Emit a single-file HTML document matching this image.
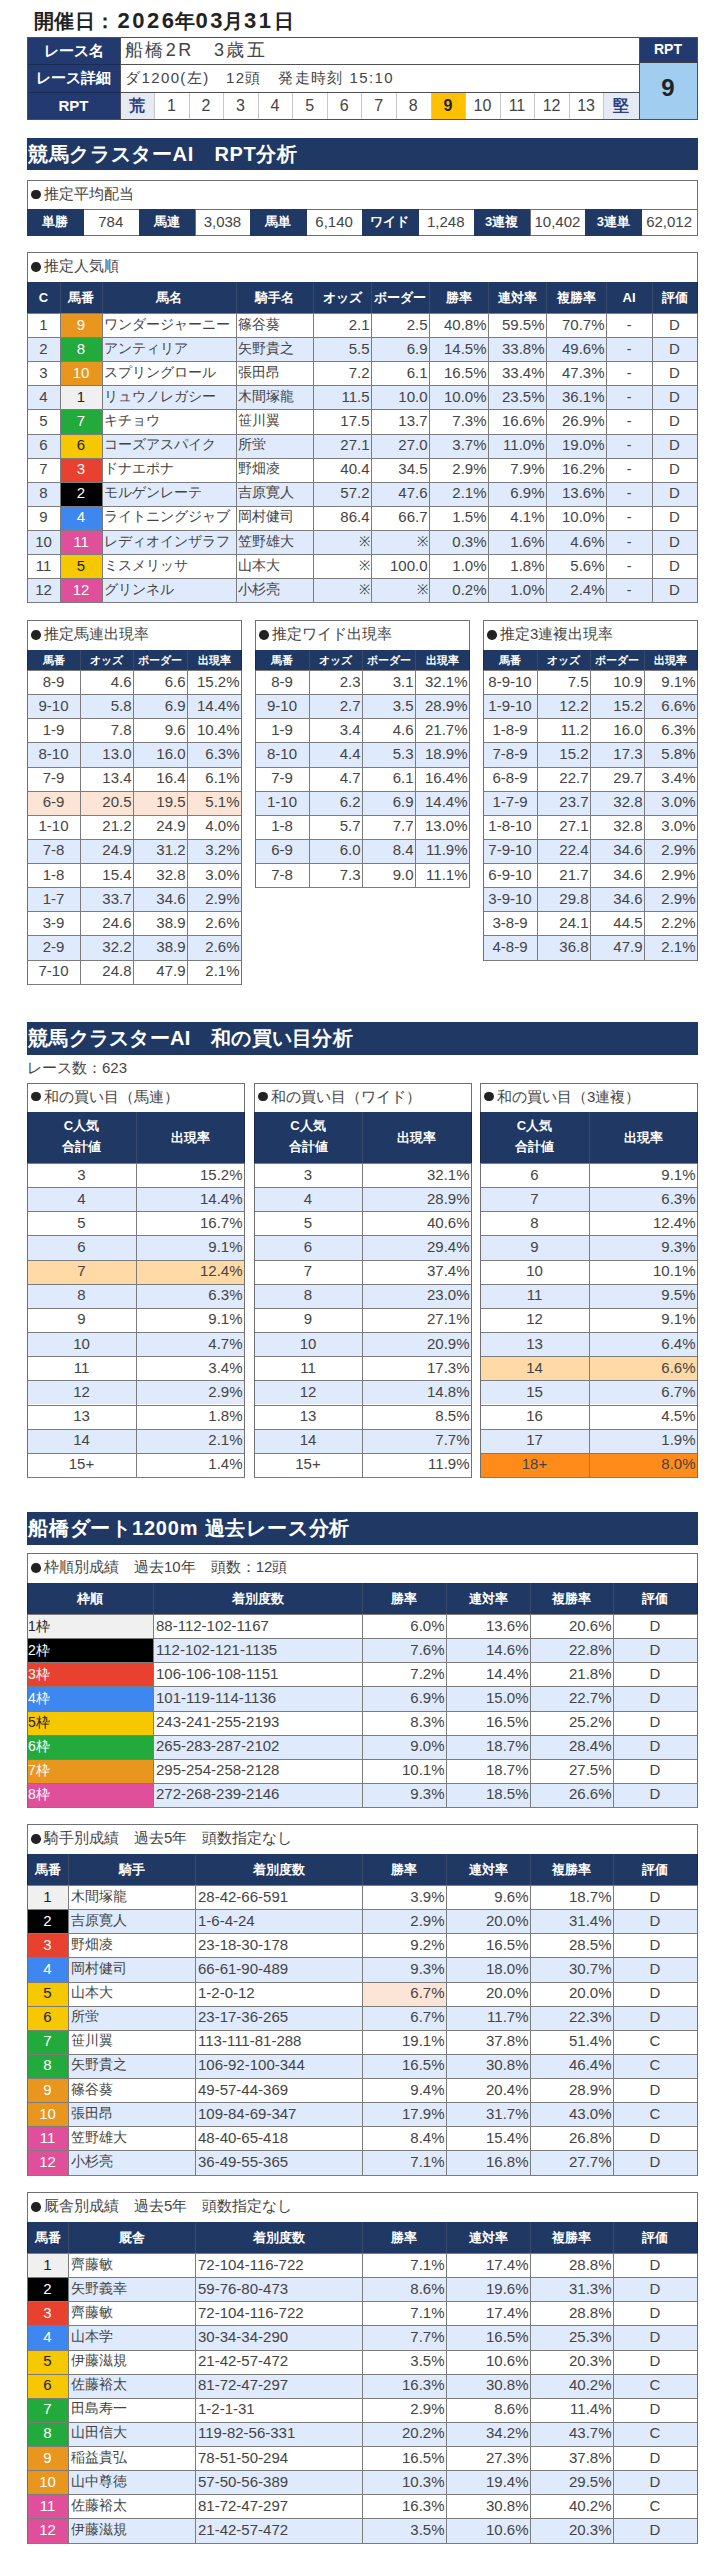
<!DOCTYPE html>
<html><head><meta charset="utf-8"><style>
html,body{margin:0;padding:0;background:#fff;}
body{width:725px;height:2560px;position:relative;overflow:hidden;font-family:"Liberation Sans",sans-serif;color:#444;}
div{position:absolute;}
.t{text-align:center;white-space:nowrap;box-sizing:border-box;}
</style></head><body>
<div class="t" style="left:33.5px;top:6px;width:120px;height:30px;line-height:30px;font-size:20px;text-align:left;color:#222;font-weight:bold;padding-left:0px;letter-spacing:0.6px;">開催日：</div>
<div class="t" style="left:117.5px;top:6px;width:120px;height:30px;line-height:30px;font-size:22px;text-align:left;color:#222;font-weight:bold;padding-left:0px;letter-spacing:2.5px;">2026</div>
<div class="t" style="left:175px;top:6px;width:120px;height:30px;line-height:30px;font-size:20px;text-align:left;color:#222;font-weight:bold;padding-left:0px;letter-spacing:0px;">年</div>
<div class="t" style="left:195.5px;top:6px;width:120px;height:30px;line-height:30px;font-size:22px;text-align:left;color:#222;font-weight:bold;padding-left:0px;letter-spacing:2.5px;">03</div>
<div class="t" style="left:222.5px;top:6px;width:120px;height:30px;line-height:30px;font-size:20px;text-align:left;color:#222;font-weight:bold;padding-left:0px;letter-spacing:0px;">月</div>
<div class="t" style="left:244px;top:6px;width:120px;height:30px;line-height:30px;font-size:22px;text-align:left;color:#222;font-weight:bold;padding-left:0px;letter-spacing:2.5px;">31</div>
<div class="t" style="left:273.5px;top:6px;width:120px;height:30px;line-height:30px;font-size:20px;text-align:left;color:#222;font-weight:bold;padding-left:0px;letter-spacing:0px;">日</div>
<div style="left:27px;top:37px;width:93px;height:83px;background:#233a70"></div>
<div style="left:120px;top:92px;width:34.1px;height:27px;background:#e6eaf2"></div>
<div style="left:603.38px;top:92px;width:35.62px;height:27px;background:#e6eaf2"></div>
<div style="left:430.58px;top:92px;width:34.56px;height:27px;background:#ffc000"></div>
<div style="left:639px;top:37px;width:58px;height:25.6px;background:#233a70"></div>
<div style="left:639px;top:62.6px;width:58px;height:56.4px;background:#a0cdf0"></div>
<div style="left:27px;top:37px;width:671px;height:1px;background:#505050"></div>
<div style="left:27px;top:119px;width:671px;height:1px;background:#505050"></div>
<div style="left:120px;top:64px;width:520px;height:1px;background:#505050"></div>
<div style="left:120px;top:92px;width:520px;height:1px;background:#505050"></div>
<div style="left:27px;top:64px;width:94px;height:1px;background:#1a2a50"></div>
<div style="left:27px;top:92px;width:94px;height:1px;background:#1a2a50"></div>
<div style="left:27px;top:37px;width:1px;height:83px;background:#505050"></div>
<div style="left:120px;top:37px;width:1px;height:83px;background:#505050"></div>
<div style="left:639px;top:37px;width:1px;height:83px;background:#505050"></div>
<div style="left:697px;top:37px;width:1px;height:83px;background:#505050"></div>
<div style="left:154.1px;top:93px;width:1px;height:26px;background:#c8c8c8"></div>
<div style="left:188.66px;top:93px;width:1px;height:26px;background:#c8c8c8"></div>
<div style="left:223.22px;top:93px;width:1px;height:26px;background:#c8c8c8"></div>
<div style="left:257.78px;top:93px;width:1px;height:26px;background:#c8c8c8"></div>
<div style="left:292.34px;top:93px;width:1px;height:26px;background:#c8c8c8"></div>
<div style="left:326.9px;top:93px;width:1px;height:26px;background:#c8c8c8"></div>
<div style="left:361.46px;top:93px;width:1px;height:26px;background:#c8c8c8"></div>
<div style="left:396.02px;top:93px;width:1px;height:26px;background:#c8c8c8"></div>
<div style="left:430.58px;top:93px;width:1px;height:26px;background:#c8c8c8"></div>
<div style="left:465.14px;top:93px;width:1px;height:26px;background:#c8c8c8"></div>
<div style="left:499.7px;top:93px;width:1px;height:26px;background:#c8c8c8"></div>
<div style="left:534.26px;top:93px;width:1px;height:26px;background:#c8c8c8"></div>
<div style="left:568.82px;top:93px;width:1px;height:26px;background:#c8c8c8"></div>
<div style="left:603.38px;top:93px;width:1px;height:26px;background:#c8c8c8"></div>
<div style="left:639px;top:62px;width:59px;height:1px;background:#404040"></div>
<div class="t" style="left:27px;top:36.5px;width:93px;height:27px;line-height:27px;font-size:15px;color:#fff;font-weight:bold;">レース名</div>
<div class="t" style="left:27px;top:63.5px;width:93px;height:28px;line-height:28px;font-size:15px;color:#fff;font-weight:bold;">レース詳細</div>
<div class="t" style="left:27px;top:91.5px;width:93px;height:27px;line-height:27px;font-size:15px;color:#fff;font-weight:bold;">RPT</div>
<div class="t" style="left:120px;top:36.5px;width:500px;height:27px;line-height:27px;font-size:18px;text-align:left;padding-left:5px;letter-spacing:2.4px;">船橋2R　3歳五</div>
<div class="t" style="left:120px;top:63.5px;width:500px;height:28px;line-height:28px;font-size:15px;text-align:left;padding-left:5px;letter-spacing:1.4px;">ダ1200(左)　12頭　発走時刻 15:10</div>
<div class="t" style="left:120px;top:91.5px;width:34.1px;height:27px;line-height:27px;font-size:16px;color:#2b3f86;font-weight:bold;">荒</div>
<div class="t" style="left:154.1px;top:91.5px;width:34.56px;height:27px;line-height:27px;font-size:16px;">1</div>
<div class="t" style="left:188.66px;top:91.5px;width:34.56px;height:27px;line-height:27px;font-size:16px;">2</div>
<div class="t" style="left:223.22px;top:91.5px;width:34.56px;height:27px;line-height:27px;font-size:16px;">3</div>
<div class="t" style="left:257.78px;top:91.5px;width:34.56px;height:27px;line-height:27px;font-size:16px;">4</div>
<div class="t" style="left:292.34px;top:91.5px;width:34.56px;height:27px;line-height:27px;font-size:16px;">5</div>
<div class="t" style="left:326.9px;top:91.5px;width:34.56px;height:27px;line-height:27px;font-size:16px;">6</div>
<div class="t" style="left:361.46px;top:91.5px;width:34.56px;height:27px;line-height:27px;font-size:16px;">7</div>
<div class="t" style="left:396.02px;top:91.5px;width:34.56px;height:27px;line-height:27px;font-size:16px;">8</div>
<div class="t" style="left:430.58px;top:91.5px;width:34.56px;height:27px;line-height:27px;font-size:16px;color:#222;font-weight:bold;">9</div>
<div class="t" style="left:465.14px;top:91.5px;width:34.56px;height:27px;line-height:27px;font-size:16px;">10</div>
<div class="t" style="left:499.7px;top:91.5px;width:34.56px;height:27px;line-height:27px;font-size:16px;">11</div>
<div class="t" style="left:534.26px;top:91.5px;width:34.56px;height:27px;line-height:27px;font-size:16px;">12</div>
<div class="t" style="left:568.82px;top:91.5px;width:34.56px;height:27px;line-height:27px;font-size:16px;">13</div>
<div class="t" style="left:603.38px;top:91.5px;width:35.62px;height:27px;line-height:27px;font-size:16px;color:#2b3f86;font-weight:bold;">堅</div>
<div class="t" style="left:639px;top:36.5px;width:58px;height:25.6px;line-height:25.6px;font-size:14px;color:#fff;font-weight:bold;">RPT</div>
<div class="t" style="left:639px;top:60.1px;width:58px;height:56.4px;line-height:56.4px;font-size:24px;color:#222;font-weight:bold;">9</div>
<div style="left:27px;top:138px;width:671px;height:32px;background:#1f3864"></div>
<div class="t" style="left:27px;top:137.5px;width:660px;height:32px;line-height:32px;font-size:20px;text-align:left;color:#fff;font-weight:bold;padding-left:1px;letter-spacing:0.65px;">競馬クラスターAI　RPT分析</div>
<div style="left:27px;top:180px;width:671px;height:1px;background:#707070"></div>
<div style="left:27px;top:180px;width:1px;height:30px;background:#707070"></div>
<div style="left:697px;top:180px;width:1px;height:30px;background:#707070"></div>
<div style="left:31.2px;top:189.9px;width:9.6px;height:9.6px;border-radius:50%;background:#222"></div>
<div class="t" style="left:44px;top:179.3px;width:653px;height:29px;line-height:29px;font-size:15px;text-align:left;padding-left:0px;">推定平均配当</div>
<div style="left:27px;top:209px;width:671px;height:1px;background:#707070"></div>
<div style="left:27px;top:235px;width:671px;height:1px;background:#707070"></div>
<div style="left:27px;top:209px;width:1px;height:27px;background:#707070"></div>
<div style="left:82.83px;top:209px;width:1px;height:27px;background:#707070"></div>
<div style="left:138.67px;top:209px;width:1px;height:27px;background:#707070"></div>
<div style="left:194.5px;top:209px;width:1px;height:27px;background:#707070"></div>
<div style="left:250.33px;top:209px;width:1px;height:27px;background:#707070"></div>
<div style="left:306.17px;top:209px;width:1px;height:27px;background:#707070"></div>
<div style="left:362px;top:209px;width:1px;height:27px;background:#707070"></div>
<div style="left:417.83px;top:209px;width:1px;height:27px;background:#707070"></div>
<div style="left:473.67px;top:209px;width:1px;height:27px;background:#707070"></div>
<div style="left:529.5px;top:209px;width:1px;height:27px;background:#707070"></div>
<div style="left:585.33px;top:209px;width:1px;height:27px;background:#707070"></div>
<div style="left:641.17px;top:209px;width:1px;height:27px;background:#707070"></div>
<div style="left:697px;top:209px;width:1px;height:27px;background:#707070"></div>
<div style="left:27px;top:209px;width:56.83px;height:27px;background:#1f3864"></div>
<div style="left:138.67px;top:209px;width:56.83px;height:27px;background:#1f3864"></div>
<div style="left:250.33px;top:209px;width:56.83px;height:27px;background:#1f3864"></div>
<div style="left:362px;top:209px;width:56.83px;height:27px;background:#1f3864"></div>
<div style="left:473.67px;top:209px;width:56.83px;height:27px;background:#1f3864"></div>
<div style="left:585.33px;top:209px;width:56.83px;height:27px;background:#1f3864"></div>
<div class="t" style="left:27px;top:208.5px;width:55.83px;height:26px;line-height:26px;font-size:13px;color:#fff;font-weight:bold;">単勝</div>
<div class="t" style="left:82.83px;top:208.5px;width:55.83px;height:26px;line-height:26px;font-size:15px;">784</div>
<div class="t" style="left:138.67px;top:208.5px;width:55.83px;height:26px;line-height:26px;font-size:13px;color:#fff;font-weight:bold;">馬連</div>
<div class="t" style="left:194.5px;top:208.5px;width:55.83px;height:26px;line-height:26px;font-size:15px;">3,038</div>
<div class="t" style="left:250.33px;top:208.5px;width:55.83px;height:26px;line-height:26px;font-size:13px;color:#fff;font-weight:bold;">馬単</div>
<div class="t" style="left:306.17px;top:208.5px;width:55.83px;height:26px;line-height:26px;font-size:15px;">6,140</div>
<div class="t" style="left:362px;top:208.5px;width:55.83px;height:26px;line-height:26px;font-size:13px;color:#fff;font-weight:bold;">ワイド</div>
<div class="t" style="left:417.83px;top:208.5px;width:55.83px;height:26px;line-height:26px;font-size:15px;">1,248</div>
<div class="t" style="left:473.67px;top:208.5px;width:55.83px;height:26px;line-height:26px;font-size:13px;color:#fff;font-weight:bold;">3連複</div>
<div class="t" style="left:529.5px;top:208.5px;width:55.83px;height:26px;line-height:26px;font-size:15px;">10,402</div>
<div class="t" style="left:585.33px;top:208.5px;width:55.83px;height:26px;line-height:26px;font-size:13px;color:#fff;font-weight:bold;">3連単</div>
<div class="t" style="left:641.17px;top:208.5px;width:55.83px;height:26px;line-height:26px;font-size:15px;">62,012</div>
<div style="left:27px;top:252px;width:671px;height:1px;background:#707070"></div>
<div style="left:27px;top:252px;width:1px;height:31px;background:#707070"></div>
<div style="left:697px;top:252px;width:1px;height:31px;background:#707070"></div>
<div style="left:31.2px;top:262.4px;width:9.6px;height:9.6px;border-radius:50%;background:#222"></div>
<div class="t" style="left:44px;top:251.3px;width:653px;height:30px;line-height:30px;font-size:15px;text-align:left;padding-left:0px;">推定人気順</div>
<div style="left:27px;top:282px;width:671px;height:31px;background:#1f3864"></div>
<div style="left:60px;top:282px;width:1px;height:31px;background:#3b4a68"></div>
<div style="left:102px;top:282px;width:1px;height:31px;background:#3b4a68"></div>
<div style="left:236px;top:282px;width:1px;height:31px;background:#3b4a68"></div>
<div style="left:313px;top:282px;width:1px;height:31px;background:#3b4a68"></div>
<div style="left:371px;top:282px;width:1px;height:31px;background:#3b4a68"></div>
<div style="left:429px;top:282px;width:1px;height:31px;background:#3b4a68"></div>
<div style="left:488px;top:282px;width:1px;height:31px;background:#3b4a68"></div>
<div style="left:546px;top:282px;width:1px;height:31px;background:#3b4a68"></div>
<div style="left:606px;top:282px;width:1px;height:31px;background:#3b4a68"></div>
<div style="left:652px;top:282px;width:1px;height:31px;background:#3b4a68"></div>
<div style="left:27px;top:282px;width:1px;height:31px;background:#1a2848"></div>
<div style="left:697px;top:282px;width:1px;height:31px;background:#1a2848"></div>
<div class="t" style="left:27px;top:281.5px;width:33px;height:31px;line-height:31px;font-size:13px;color:#fff;font-weight:bold;">C</div>
<div class="t" style="left:60px;top:281.5px;width:42px;height:31px;line-height:31px;font-size:13px;color:#fff;font-weight:bold;">馬番</div>
<div class="t" style="left:102px;top:281.5px;width:134px;height:31px;line-height:31px;font-size:13px;color:#fff;font-weight:bold;">馬名</div>
<div class="t" style="left:236px;top:281.5px;width:77px;height:31px;line-height:31px;font-size:13px;color:#fff;font-weight:bold;">騎手名</div>
<div class="t" style="left:313px;top:281.5px;width:58px;height:31px;line-height:31px;font-size:13px;color:#fff;font-weight:bold;">オッズ</div>
<div class="t" style="left:371px;top:281.5px;width:58px;height:31px;line-height:31px;font-size:13px;color:#fff;font-weight:bold;">ボーダー</div>
<div class="t" style="left:429px;top:281.5px;width:59px;height:31px;line-height:31px;font-size:13px;color:#fff;font-weight:bold;">勝率</div>
<div class="t" style="left:488px;top:281.5px;width:58px;height:31px;line-height:31px;font-size:13px;color:#fff;font-weight:bold;">連対率</div>
<div class="t" style="left:546px;top:281.5px;width:60px;height:31px;line-height:31px;font-size:13px;color:#fff;font-weight:bold;">複勝率</div>
<div class="t" style="left:606px;top:281.5px;width:46px;height:31px;line-height:31px;font-size:13px;color:#fff;font-weight:bold;">AI</div>
<div class="t" style="left:652px;top:281.5px;width:45px;height:31px;line-height:31px;font-size:13px;color:#fff;font-weight:bold;">評価</div>
<div style="left:60px;top:313px;width:42px;height:24.12px;background:#e8961e"></div>
<div style="left:27px;top:337.12px;width:670px;height:24.12px;background:#dfeafc"></div>
<div style="left:60px;top:337.12px;width:42px;height:24.12px;background:#22aa3c"></div>
<div style="left:60px;top:361.24px;width:42px;height:24.12px;background:#e8961e"></div>
<div style="left:27px;top:385.36px;width:670px;height:24.12px;background:#dfeafc"></div>
<div style="left:60px;top:385.36px;width:42px;height:24.12px;background:#f0f0f0"></div>
<div style="left:60px;top:409.48px;width:42px;height:24.12px;background:#22aa3c"></div>
<div style="left:27px;top:433.6px;width:670px;height:24.12px;background:#dfeafc"></div>
<div style="left:60px;top:433.6px;width:42px;height:24.12px;background:#f5c800"></div>
<div style="left:60px;top:457.72px;width:42px;height:24.12px;background:#e8412f"></div>
<div style="left:27px;top:481.84px;width:670px;height:24.12px;background:#dfeafc"></div>
<div style="left:60px;top:481.84px;width:42px;height:24.12px;background:#000000"></div>
<div style="left:60px;top:505.96px;width:42px;height:24.12px;background:#3f87f0"></div>
<div style="left:27px;top:530.08px;width:670px;height:24.12px;background:#dfeafc"></div>
<div style="left:60px;top:530.08px;width:42px;height:24.12px;background:#e0509a"></div>
<div style="left:60px;top:554.2px;width:42px;height:24.12px;background:#f5c800"></div>
<div style="left:27px;top:578.32px;width:670px;height:24.12px;background:#dfeafc"></div>
<div style="left:60px;top:578.32px;width:42px;height:24.12px;background:#e0509a"></div>
<div style="left:27px;top:313px;width:671px;height:1px;background:#7c7c7c"></div>
<div style="left:27px;top:337.12px;width:671px;height:1px;background:#7c7c7c"></div>
<div style="left:27px;top:361.24px;width:671px;height:1px;background:#7c7c7c"></div>
<div style="left:27px;top:385.36px;width:671px;height:1px;background:#7c7c7c"></div>
<div style="left:27px;top:409.48px;width:671px;height:1px;background:#7c7c7c"></div>
<div style="left:27px;top:433.6px;width:671px;height:1px;background:#7c7c7c"></div>
<div style="left:27px;top:457.72px;width:671px;height:1px;background:#7c7c7c"></div>
<div style="left:27px;top:481.84px;width:671px;height:1px;background:#7c7c7c"></div>
<div style="left:27px;top:505.96px;width:671px;height:1px;background:#7c7c7c"></div>
<div style="left:27px;top:530.08px;width:671px;height:1px;background:#7c7c7c"></div>
<div style="left:27px;top:554.2px;width:671px;height:1px;background:#7c7c7c"></div>
<div style="left:27px;top:578.32px;width:671px;height:1px;background:#7c7c7c"></div>
<div style="left:27px;top:602.44px;width:671px;height:1px;background:#7c7c7c"></div>
<div style="left:27px;top:313px;width:1px;height:290.44px;background:#7c7c7c"></div>
<div style="left:60px;top:313px;width:1px;height:290.44px;background:#7c7c7c"></div>
<div style="left:102px;top:313px;width:1px;height:290.44px;background:#7c7c7c"></div>
<div style="left:236px;top:313px;width:1px;height:290.44px;background:#7c7c7c"></div>
<div style="left:313px;top:313px;width:1px;height:290.44px;background:#7c7c7c"></div>
<div style="left:371px;top:313px;width:1px;height:290.44px;background:#7c7c7c"></div>
<div style="left:429px;top:313px;width:1px;height:290.44px;background:#7c7c7c"></div>
<div style="left:488px;top:313px;width:1px;height:290.44px;background:#7c7c7c"></div>
<div style="left:546px;top:313px;width:1px;height:290.44px;background:#7c7c7c"></div>
<div style="left:606px;top:313px;width:1px;height:290.44px;background:#7c7c7c"></div>
<div style="left:652px;top:313px;width:1px;height:290.44px;background:#7c7c7c"></div>
<div style="left:697px;top:313px;width:1px;height:290.44px;background:#7c7c7c"></div>
<div style="left:27px;top:313px;width:1px;height:290.44px;background:#707070"></div>
<div style="left:697px;top:313px;width:1px;height:290.44px;background:#707070"></div>
<div class="t" style="left:27px;top:312.5px;width:33px;height:24.12px;line-height:24.12px;font-size:15px;">1</div>
<div class="t" style="left:60px;top:312.5px;width:42px;height:24.12px;line-height:24.12px;font-size:15px;color:#fff;">9</div>
<div class="t" style="left:102px;top:312.5px;width:134px;height:24.12px;line-height:24.12px;font-size:13.5px;text-align:left;padding-left:2px;">ワンダージャーニー</div>
<div class="t" style="left:236px;top:312.5px;width:77px;height:24.12px;line-height:24.12px;font-size:13.5px;text-align:left;padding-left:2px;">篠谷葵</div>
<div class="t" style="left:313px;top:312.5px;width:58px;height:24.12px;line-height:24.12px;font-size:15px;text-align:right;padding-right:1.5px;">2.1</div>
<div class="t" style="left:371px;top:312.5px;width:58px;height:24.12px;line-height:24.12px;font-size:15px;text-align:right;padding-right:1.5px;">2.5</div>
<div class="t" style="left:429px;top:312.5px;width:59px;height:24.12px;line-height:24.12px;font-size:15px;text-align:right;padding-right:1.5px;">40.8%</div>
<div class="t" style="left:488px;top:312.5px;width:58px;height:24.12px;line-height:24.12px;font-size:15px;text-align:right;padding-right:1.5px;">59.5%</div>
<div class="t" style="left:546px;top:312.5px;width:60px;height:24.12px;line-height:24.12px;font-size:15px;text-align:right;padding-right:1.5px;">70.7%</div>
<div class="t" style="left:606px;top:312.5px;width:46px;height:24.12px;line-height:24.12px;font-size:14px;">-</div>
<div class="t" style="left:652px;top:312.5px;width:45px;height:24.12px;line-height:24.12px;font-size:15px;">D</div>
<div class="t" style="left:27px;top:336.62px;width:33px;height:24.12px;line-height:24.12px;font-size:15px;">2</div>
<div class="t" style="left:60px;top:336.62px;width:42px;height:24.12px;line-height:24.12px;font-size:15px;color:#fff;">8</div>
<div class="t" style="left:102px;top:336.62px;width:134px;height:24.12px;line-height:24.12px;font-size:13.5px;text-align:left;padding-left:2px;">アンティリア</div>
<div class="t" style="left:236px;top:336.62px;width:77px;height:24.12px;line-height:24.12px;font-size:13.5px;text-align:left;padding-left:2px;">矢野貴之</div>
<div class="t" style="left:313px;top:336.62px;width:58px;height:24.12px;line-height:24.12px;font-size:15px;text-align:right;padding-right:1.5px;">5.5</div>
<div class="t" style="left:371px;top:336.62px;width:58px;height:24.12px;line-height:24.12px;font-size:15px;text-align:right;padding-right:1.5px;">6.9</div>
<div class="t" style="left:429px;top:336.62px;width:59px;height:24.12px;line-height:24.12px;font-size:15px;text-align:right;padding-right:1.5px;">14.5%</div>
<div class="t" style="left:488px;top:336.62px;width:58px;height:24.12px;line-height:24.12px;font-size:15px;text-align:right;padding-right:1.5px;">33.8%</div>
<div class="t" style="left:546px;top:336.62px;width:60px;height:24.12px;line-height:24.12px;font-size:15px;text-align:right;padding-right:1.5px;">49.6%</div>
<div class="t" style="left:606px;top:336.62px;width:46px;height:24.12px;line-height:24.12px;font-size:14px;">-</div>
<div class="t" style="left:652px;top:336.62px;width:45px;height:24.12px;line-height:24.12px;font-size:15px;">D</div>
<div class="t" style="left:27px;top:360.74px;width:33px;height:24.12px;line-height:24.12px;font-size:15px;">3</div>
<div class="t" style="left:60px;top:360.74px;width:42px;height:24.12px;line-height:24.12px;font-size:15px;color:#fff;">10</div>
<div class="t" style="left:102px;top:360.74px;width:134px;height:24.12px;line-height:24.12px;font-size:13.5px;text-align:left;padding-left:2px;">スプリングロール</div>
<div class="t" style="left:236px;top:360.74px;width:77px;height:24.12px;line-height:24.12px;font-size:13.5px;text-align:left;padding-left:2px;">張田昂</div>
<div class="t" style="left:313px;top:360.74px;width:58px;height:24.12px;line-height:24.12px;font-size:15px;text-align:right;padding-right:1.5px;">7.2</div>
<div class="t" style="left:371px;top:360.74px;width:58px;height:24.12px;line-height:24.12px;font-size:15px;text-align:right;padding-right:1.5px;">6.1</div>
<div class="t" style="left:429px;top:360.74px;width:59px;height:24.12px;line-height:24.12px;font-size:15px;text-align:right;padding-right:1.5px;">16.5%</div>
<div class="t" style="left:488px;top:360.74px;width:58px;height:24.12px;line-height:24.12px;font-size:15px;text-align:right;padding-right:1.5px;">33.4%</div>
<div class="t" style="left:546px;top:360.74px;width:60px;height:24.12px;line-height:24.12px;font-size:15px;text-align:right;padding-right:1.5px;">47.3%</div>
<div class="t" style="left:606px;top:360.74px;width:46px;height:24.12px;line-height:24.12px;font-size:14px;">-</div>
<div class="t" style="left:652px;top:360.74px;width:45px;height:24.12px;line-height:24.12px;font-size:15px;">D</div>
<div class="t" style="left:27px;top:384.86px;width:33px;height:24.12px;line-height:24.12px;font-size:15px;">4</div>
<div class="t" style="left:60px;top:384.86px;width:42px;height:24.12px;line-height:24.12px;font-size:15px;color:#222;">1</div>
<div class="t" style="left:102px;top:384.86px;width:134px;height:24.12px;line-height:24.12px;font-size:13.5px;text-align:left;padding-left:2px;">リュウノレガシー</div>
<div class="t" style="left:236px;top:384.86px;width:77px;height:24.12px;line-height:24.12px;font-size:13.5px;text-align:left;padding-left:2px;">木間塚龍</div>
<div class="t" style="left:313px;top:384.86px;width:58px;height:24.12px;line-height:24.12px;font-size:15px;text-align:right;padding-right:1.5px;">11.5</div>
<div class="t" style="left:371px;top:384.86px;width:58px;height:24.12px;line-height:24.12px;font-size:15px;text-align:right;padding-right:1.5px;">10.0</div>
<div class="t" style="left:429px;top:384.86px;width:59px;height:24.12px;line-height:24.12px;font-size:15px;text-align:right;padding-right:1.5px;">10.0%</div>
<div class="t" style="left:488px;top:384.86px;width:58px;height:24.12px;line-height:24.12px;font-size:15px;text-align:right;padding-right:1.5px;">23.5%</div>
<div class="t" style="left:546px;top:384.86px;width:60px;height:24.12px;line-height:24.12px;font-size:15px;text-align:right;padding-right:1.5px;">36.1%</div>
<div class="t" style="left:606px;top:384.86px;width:46px;height:24.12px;line-height:24.12px;font-size:14px;">-</div>
<div class="t" style="left:652px;top:384.86px;width:45px;height:24.12px;line-height:24.12px;font-size:15px;">D</div>
<div class="t" style="left:27px;top:408.98px;width:33px;height:24.12px;line-height:24.12px;font-size:15px;">5</div>
<div class="t" style="left:60px;top:408.98px;width:42px;height:24.12px;line-height:24.12px;font-size:15px;color:#fff;">7</div>
<div class="t" style="left:102px;top:408.98px;width:134px;height:24.12px;line-height:24.12px;font-size:13.5px;text-align:left;padding-left:2px;">キチョウ</div>
<div class="t" style="left:236px;top:408.98px;width:77px;height:24.12px;line-height:24.12px;font-size:13.5px;text-align:left;padding-left:2px;">笹川翼</div>
<div class="t" style="left:313px;top:408.98px;width:58px;height:24.12px;line-height:24.12px;font-size:15px;text-align:right;padding-right:1.5px;">17.5</div>
<div class="t" style="left:371px;top:408.98px;width:58px;height:24.12px;line-height:24.12px;font-size:15px;text-align:right;padding-right:1.5px;">13.7</div>
<div class="t" style="left:429px;top:408.98px;width:59px;height:24.12px;line-height:24.12px;font-size:15px;text-align:right;padding-right:1.5px;">7.3%</div>
<div class="t" style="left:488px;top:408.98px;width:58px;height:24.12px;line-height:24.12px;font-size:15px;text-align:right;padding-right:1.5px;">16.6%</div>
<div class="t" style="left:546px;top:408.98px;width:60px;height:24.12px;line-height:24.12px;font-size:15px;text-align:right;padding-right:1.5px;">26.9%</div>
<div class="t" style="left:606px;top:408.98px;width:46px;height:24.12px;line-height:24.12px;font-size:14px;">-</div>
<div class="t" style="left:652px;top:408.98px;width:45px;height:24.12px;line-height:24.12px;font-size:15px;">D</div>
<div class="t" style="left:27px;top:433.1px;width:33px;height:24.12px;line-height:24.12px;font-size:15px;">6</div>
<div class="t" style="left:60px;top:433.1px;width:42px;height:24.12px;line-height:24.12px;font-size:15px;color:#222;">6</div>
<div class="t" style="left:102px;top:433.1px;width:134px;height:24.12px;line-height:24.12px;font-size:13.5px;text-align:left;padding-left:2px;">コーズアスパイク</div>
<div class="t" style="left:236px;top:433.1px;width:77px;height:24.12px;line-height:24.12px;font-size:13.5px;text-align:left;padding-left:2px;">所蛍</div>
<div class="t" style="left:313px;top:433.1px;width:58px;height:24.12px;line-height:24.12px;font-size:15px;text-align:right;padding-right:1.5px;">27.1</div>
<div class="t" style="left:371px;top:433.1px;width:58px;height:24.12px;line-height:24.12px;font-size:15px;text-align:right;padding-right:1.5px;">27.0</div>
<div class="t" style="left:429px;top:433.1px;width:59px;height:24.12px;line-height:24.12px;font-size:15px;text-align:right;padding-right:1.5px;">3.7%</div>
<div class="t" style="left:488px;top:433.1px;width:58px;height:24.12px;line-height:24.12px;font-size:15px;text-align:right;padding-right:1.5px;">11.0%</div>
<div class="t" style="left:546px;top:433.1px;width:60px;height:24.12px;line-height:24.12px;font-size:15px;text-align:right;padding-right:1.5px;">19.0%</div>
<div class="t" style="left:606px;top:433.1px;width:46px;height:24.12px;line-height:24.12px;font-size:14px;">-</div>
<div class="t" style="left:652px;top:433.1px;width:45px;height:24.12px;line-height:24.12px;font-size:15px;">D</div>
<div class="t" style="left:27px;top:457.22px;width:33px;height:24.12px;line-height:24.12px;font-size:15px;">7</div>
<div class="t" style="left:60px;top:457.22px;width:42px;height:24.12px;line-height:24.12px;font-size:15px;color:#fff;">3</div>
<div class="t" style="left:102px;top:457.22px;width:134px;height:24.12px;line-height:24.12px;font-size:13.5px;text-align:left;padding-left:2px;">ドナエポナ</div>
<div class="t" style="left:236px;top:457.22px;width:77px;height:24.12px;line-height:24.12px;font-size:13.5px;text-align:left;padding-left:2px;">野畑凌</div>
<div class="t" style="left:313px;top:457.22px;width:58px;height:24.12px;line-height:24.12px;font-size:15px;text-align:right;padding-right:1.5px;">40.4</div>
<div class="t" style="left:371px;top:457.22px;width:58px;height:24.12px;line-height:24.12px;font-size:15px;text-align:right;padding-right:1.5px;">34.5</div>
<div class="t" style="left:429px;top:457.22px;width:59px;height:24.12px;line-height:24.12px;font-size:15px;text-align:right;padding-right:1.5px;">2.9%</div>
<div class="t" style="left:488px;top:457.22px;width:58px;height:24.12px;line-height:24.12px;font-size:15px;text-align:right;padding-right:1.5px;">7.9%</div>
<div class="t" style="left:546px;top:457.22px;width:60px;height:24.12px;line-height:24.12px;font-size:15px;text-align:right;padding-right:1.5px;">16.2%</div>
<div class="t" style="left:606px;top:457.22px;width:46px;height:24.12px;line-height:24.12px;font-size:14px;">-</div>
<div class="t" style="left:652px;top:457.22px;width:45px;height:24.12px;line-height:24.12px;font-size:15px;">D</div>
<div class="t" style="left:27px;top:481.34px;width:33px;height:24.12px;line-height:24.12px;font-size:15px;">8</div>
<div class="t" style="left:60px;top:481.34px;width:42px;height:24.12px;line-height:24.12px;font-size:15px;color:#fff;">2</div>
<div class="t" style="left:102px;top:481.34px;width:134px;height:24.12px;line-height:24.12px;font-size:13.5px;text-align:left;padding-left:2px;">モルゲンレーテ</div>
<div class="t" style="left:236px;top:481.34px;width:77px;height:24.12px;line-height:24.12px;font-size:13.5px;text-align:left;padding-left:2px;">吉原寛人</div>
<div class="t" style="left:313px;top:481.34px;width:58px;height:24.12px;line-height:24.12px;font-size:15px;text-align:right;padding-right:1.5px;">57.2</div>
<div class="t" style="left:371px;top:481.34px;width:58px;height:24.12px;line-height:24.12px;font-size:15px;text-align:right;padding-right:1.5px;">47.6</div>
<div class="t" style="left:429px;top:481.34px;width:59px;height:24.12px;line-height:24.12px;font-size:15px;text-align:right;padding-right:1.5px;">2.1%</div>
<div class="t" style="left:488px;top:481.34px;width:58px;height:24.12px;line-height:24.12px;font-size:15px;text-align:right;padding-right:1.5px;">6.9%</div>
<div class="t" style="left:546px;top:481.34px;width:60px;height:24.12px;line-height:24.12px;font-size:15px;text-align:right;padding-right:1.5px;">13.6%</div>
<div class="t" style="left:606px;top:481.34px;width:46px;height:24.12px;line-height:24.12px;font-size:14px;">-</div>
<div class="t" style="left:652px;top:481.34px;width:45px;height:24.12px;line-height:24.12px;font-size:15px;">D</div>
<div class="t" style="left:27px;top:505.46px;width:33px;height:24.12px;line-height:24.12px;font-size:15px;">9</div>
<div class="t" style="left:60px;top:505.46px;width:42px;height:24.12px;line-height:24.12px;font-size:15px;color:#fff;">4</div>
<div class="t" style="left:102px;top:505.46px;width:134px;height:24.12px;line-height:24.12px;font-size:13.5px;text-align:left;padding-left:2px;">ライトニングジャブ</div>
<div class="t" style="left:236px;top:505.46px;width:77px;height:24.12px;line-height:24.12px;font-size:13.5px;text-align:left;padding-left:2px;">岡村健司</div>
<div class="t" style="left:313px;top:505.46px;width:58px;height:24.12px;line-height:24.12px;font-size:15px;text-align:right;padding-right:1.5px;">86.4</div>
<div class="t" style="left:371px;top:505.46px;width:58px;height:24.12px;line-height:24.12px;font-size:15px;text-align:right;padding-right:1.5px;">66.7</div>
<div class="t" style="left:429px;top:505.46px;width:59px;height:24.12px;line-height:24.12px;font-size:15px;text-align:right;padding-right:1.5px;">1.5%</div>
<div class="t" style="left:488px;top:505.46px;width:58px;height:24.12px;line-height:24.12px;font-size:15px;text-align:right;padding-right:1.5px;">4.1%</div>
<div class="t" style="left:546px;top:505.46px;width:60px;height:24.12px;line-height:24.12px;font-size:15px;text-align:right;padding-right:1.5px;">10.0%</div>
<div class="t" style="left:606px;top:505.46px;width:46px;height:24.12px;line-height:24.12px;font-size:14px;">-</div>
<div class="t" style="left:652px;top:505.46px;width:45px;height:24.12px;line-height:24.12px;font-size:15px;">D</div>
<div class="t" style="left:27px;top:529.58px;width:33px;height:24.12px;line-height:24.12px;font-size:15px;">10</div>
<div class="t" style="left:60px;top:529.58px;width:42px;height:24.12px;line-height:24.12px;font-size:15px;color:#fff;">11</div>
<div class="t" style="left:102px;top:529.58px;width:134px;height:24.12px;line-height:24.12px;font-size:13.5px;text-align:left;padding-left:2px;">レディオインザラフ</div>
<div class="t" style="left:236px;top:529.58px;width:77px;height:24.12px;line-height:24.12px;font-size:13.5px;text-align:left;padding-left:2px;">笠野雄大</div>
<div class="t" style="left:313px;top:529.58px;width:58px;height:24.12px;line-height:24.12px;font-size:13.5px;text-align:right;padding-right:1.5px;">※</div>
<div class="t" style="left:371px;top:529.58px;width:58px;height:24.12px;line-height:24.12px;font-size:13.5px;text-align:right;padding-right:1.5px;">※</div>
<div class="t" style="left:429px;top:529.58px;width:59px;height:24.12px;line-height:24.12px;font-size:15px;text-align:right;padding-right:1.5px;">0.3%</div>
<div class="t" style="left:488px;top:529.58px;width:58px;height:24.12px;line-height:24.12px;font-size:15px;text-align:right;padding-right:1.5px;">1.6%</div>
<div class="t" style="left:546px;top:529.58px;width:60px;height:24.12px;line-height:24.12px;font-size:15px;text-align:right;padding-right:1.5px;">4.6%</div>
<div class="t" style="left:606px;top:529.58px;width:46px;height:24.12px;line-height:24.12px;font-size:14px;">-</div>
<div class="t" style="left:652px;top:529.58px;width:45px;height:24.12px;line-height:24.12px;font-size:15px;">D</div>
<div class="t" style="left:27px;top:553.7px;width:33px;height:24.12px;line-height:24.12px;font-size:15px;">11</div>
<div class="t" style="left:60px;top:553.7px;width:42px;height:24.12px;line-height:24.12px;font-size:15px;color:#222;">5</div>
<div class="t" style="left:102px;top:553.7px;width:134px;height:24.12px;line-height:24.12px;font-size:13.5px;text-align:left;padding-left:2px;">ミスメリッサ</div>
<div class="t" style="left:236px;top:553.7px;width:77px;height:24.12px;line-height:24.12px;font-size:13.5px;text-align:left;padding-left:2px;">山本大</div>
<div class="t" style="left:313px;top:553.7px;width:58px;height:24.12px;line-height:24.12px;font-size:13.5px;text-align:right;padding-right:1.5px;">※</div>
<div class="t" style="left:371px;top:553.7px;width:58px;height:24.12px;line-height:24.12px;font-size:15px;text-align:right;padding-right:1.5px;">100.0</div>
<div class="t" style="left:429px;top:553.7px;width:59px;height:24.12px;line-height:24.12px;font-size:15px;text-align:right;padding-right:1.5px;">1.0%</div>
<div class="t" style="left:488px;top:553.7px;width:58px;height:24.12px;line-height:24.12px;font-size:15px;text-align:right;padding-right:1.5px;">1.8%</div>
<div class="t" style="left:546px;top:553.7px;width:60px;height:24.12px;line-height:24.12px;font-size:15px;text-align:right;padding-right:1.5px;">5.6%</div>
<div class="t" style="left:606px;top:553.7px;width:46px;height:24.12px;line-height:24.12px;font-size:14px;">-</div>
<div class="t" style="left:652px;top:553.7px;width:45px;height:24.12px;line-height:24.12px;font-size:15px;">D</div>
<div class="t" style="left:27px;top:577.82px;width:33px;height:24.12px;line-height:24.12px;font-size:15px;">12</div>
<div class="t" style="left:60px;top:577.82px;width:42px;height:24.12px;line-height:24.12px;font-size:15px;color:#fff;">12</div>
<div class="t" style="left:102px;top:577.82px;width:134px;height:24.12px;line-height:24.12px;font-size:13.5px;text-align:left;padding-left:2px;">グリンネル</div>
<div class="t" style="left:236px;top:577.82px;width:77px;height:24.12px;line-height:24.12px;font-size:13.5px;text-align:left;padding-left:2px;">小杉亮</div>
<div class="t" style="left:313px;top:577.82px;width:58px;height:24.12px;line-height:24.12px;font-size:13.5px;text-align:right;padding-right:1.5px;">※</div>
<div class="t" style="left:371px;top:577.82px;width:58px;height:24.12px;line-height:24.12px;font-size:13.5px;text-align:right;padding-right:1.5px;">※</div>
<div class="t" style="left:429px;top:577.82px;width:59px;height:24.12px;line-height:24.12px;font-size:15px;text-align:right;padding-right:1.5px;">0.2%</div>
<div class="t" style="left:488px;top:577.82px;width:58px;height:24.12px;line-height:24.12px;font-size:15px;text-align:right;padding-right:1.5px;">1.0%</div>
<div class="t" style="left:546px;top:577.82px;width:60px;height:24.12px;line-height:24.12px;font-size:15px;text-align:right;padding-right:1.5px;">2.4%</div>
<div class="t" style="left:606px;top:577.82px;width:46px;height:24.12px;line-height:24.12px;font-size:14px;">-</div>
<div class="t" style="left:652px;top:577.82px;width:45px;height:24.12px;line-height:24.12px;font-size:15px;">D</div>
<div style="left:27px;top:620px;width:215px;height:1px;background:#707070"></div>
<div style="left:27px;top:620px;width:1px;height:31px;background:#707070"></div>
<div style="left:241px;top:620px;width:1px;height:31px;background:#707070"></div>
<div style="left:31.2px;top:630.4px;width:9.6px;height:9.6px;border-radius:50%;background:#222"></div>
<div class="t" style="left:44px;top:619.3px;width:197px;height:30px;line-height:30px;font-size:15px;text-align:left;padding-left:0px;">推定馬連出現率</div>
<div style="left:27px;top:650px;width:215px;height:20px;background:#1f3864"></div>
<div style="left:80px;top:650px;width:1px;height:20px;background:#3b4a68"></div>
<div style="left:133px;top:650px;width:1px;height:20px;background:#3b4a68"></div>
<div style="left:187px;top:650px;width:1px;height:20px;background:#3b4a68"></div>
<div style="left:27px;top:650px;width:1px;height:20px;background:#1a2848"></div>
<div style="left:241px;top:650px;width:1px;height:20px;background:#1a2848"></div>
<div class="t" style="left:27px;top:649.5px;width:53px;height:20px;line-height:20px;font-size:11px;color:#fff;font-weight:bold;">馬番</div>
<div class="t" style="left:80px;top:649.5px;width:53px;height:20px;line-height:20px;font-size:11px;color:#fff;font-weight:bold;">オッズ</div>
<div class="t" style="left:133px;top:649.5px;width:54px;height:20px;line-height:20px;font-size:11px;color:#fff;font-weight:bold;">ボーダー</div>
<div class="t" style="left:187px;top:649.5px;width:54px;height:20px;line-height:20px;font-size:11px;color:#fff;font-weight:bold;">出現率</div>
<div style="left:27px;top:694.13px;width:214px;height:24.13px;background:#dfeafc"></div>
<div style="left:27px;top:742.39px;width:214px;height:24.13px;background:#dfeafc"></div>
<div style="left:27px;top:790.65px;width:214px;height:24.13px;background:#fce4d6"></div>
<div style="left:27px;top:838.91px;width:214px;height:24.13px;background:#dfeafc"></div>
<div style="left:27px;top:887.17px;width:214px;height:24.13px;background:#dfeafc"></div>
<div style="left:27px;top:935.43px;width:214px;height:24.13px;background:#dfeafc"></div>
<div style="left:27px;top:670px;width:215px;height:1px;background:#7c7c7c"></div>
<div style="left:27px;top:694.13px;width:215px;height:1px;background:#7c7c7c"></div>
<div style="left:27px;top:718.26px;width:215px;height:1px;background:#7c7c7c"></div>
<div style="left:27px;top:742.39px;width:215px;height:1px;background:#7c7c7c"></div>
<div style="left:27px;top:766.52px;width:215px;height:1px;background:#7c7c7c"></div>
<div style="left:27px;top:790.65px;width:215px;height:1px;background:#7c7c7c"></div>
<div style="left:27px;top:814.78px;width:215px;height:1px;background:#7c7c7c"></div>
<div style="left:27px;top:838.91px;width:215px;height:1px;background:#7c7c7c"></div>
<div style="left:27px;top:863.04px;width:215px;height:1px;background:#7c7c7c"></div>
<div style="left:27px;top:887.17px;width:215px;height:1px;background:#7c7c7c"></div>
<div style="left:27px;top:911.3px;width:215px;height:1px;background:#7c7c7c"></div>
<div style="left:27px;top:935.43px;width:215px;height:1px;background:#7c7c7c"></div>
<div style="left:27px;top:959.56px;width:215px;height:1px;background:#7c7c7c"></div>
<div style="left:27px;top:983.69px;width:215px;height:1px;background:#7c7c7c"></div>
<div style="left:27px;top:670px;width:1px;height:314.69px;background:#7c7c7c"></div>
<div style="left:80px;top:670px;width:1px;height:314.69px;background:#7c7c7c"></div>
<div style="left:133px;top:670px;width:1px;height:314.69px;background:#7c7c7c"></div>
<div style="left:187px;top:670px;width:1px;height:314.69px;background:#7c7c7c"></div>
<div style="left:241px;top:670px;width:1px;height:314.69px;background:#7c7c7c"></div>
<div style="left:27px;top:670px;width:1px;height:314.69px;background:#707070"></div>
<div style="left:241px;top:670px;width:1px;height:314.69px;background:#707070"></div>
<div class="t" style="left:27px;top:669.5px;width:53px;height:24.13px;line-height:24.13px;font-size:15px;">8-9</div>
<div class="t" style="left:80px;top:669.5px;width:53px;height:24.13px;line-height:24.13px;font-size:15px;text-align:right;padding-right:1.5px;">4.6</div>
<div class="t" style="left:133px;top:669.5px;width:54px;height:24.13px;line-height:24.13px;font-size:15px;text-align:right;padding-right:1.5px;">6.6</div>
<div class="t" style="left:187px;top:669.5px;width:54px;height:24.13px;line-height:24.13px;font-size:15px;text-align:right;padding-right:1.5px;">15.2%</div>
<div class="t" style="left:27px;top:693.63px;width:53px;height:24.13px;line-height:24.13px;font-size:15px;">9-10</div>
<div class="t" style="left:80px;top:693.63px;width:53px;height:24.13px;line-height:24.13px;font-size:15px;text-align:right;padding-right:1.5px;">5.8</div>
<div class="t" style="left:133px;top:693.63px;width:54px;height:24.13px;line-height:24.13px;font-size:15px;text-align:right;padding-right:1.5px;">6.9</div>
<div class="t" style="left:187px;top:693.63px;width:54px;height:24.13px;line-height:24.13px;font-size:15px;text-align:right;padding-right:1.5px;">14.4%</div>
<div class="t" style="left:27px;top:717.76px;width:53px;height:24.13px;line-height:24.13px;font-size:15px;">1-9</div>
<div class="t" style="left:80px;top:717.76px;width:53px;height:24.13px;line-height:24.13px;font-size:15px;text-align:right;padding-right:1.5px;">7.8</div>
<div class="t" style="left:133px;top:717.76px;width:54px;height:24.13px;line-height:24.13px;font-size:15px;text-align:right;padding-right:1.5px;">9.6</div>
<div class="t" style="left:187px;top:717.76px;width:54px;height:24.13px;line-height:24.13px;font-size:15px;text-align:right;padding-right:1.5px;">10.4%</div>
<div class="t" style="left:27px;top:741.89px;width:53px;height:24.13px;line-height:24.13px;font-size:15px;">8-10</div>
<div class="t" style="left:80px;top:741.89px;width:53px;height:24.13px;line-height:24.13px;font-size:15px;text-align:right;padding-right:1.5px;">13.0</div>
<div class="t" style="left:133px;top:741.89px;width:54px;height:24.13px;line-height:24.13px;font-size:15px;text-align:right;padding-right:1.5px;">16.0</div>
<div class="t" style="left:187px;top:741.89px;width:54px;height:24.13px;line-height:24.13px;font-size:15px;text-align:right;padding-right:1.5px;">6.3%</div>
<div class="t" style="left:27px;top:766.02px;width:53px;height:24.13px;line-height:24.13px;font-size:15px;">7-9</div>
<div class="t" style="left:80px;top:766.02px;width:53px;height:24.13px;line-height:24.13px;font-size:15px;text-align:right;padding-right:1.5px;">13.4</div>
<div class="t" style="left:133px;top:766.02px;width:54px;height:24.13px;line-height:24.13px;font-size:15px;text-align:right;padding-right:1.5px;">16.4</div>
<div class="t" style="left:187px;top:766.02px;width:54px;height:24.13px;line-height:24.13px;font-size:15px;text-align:right;padding-right:1.5px;">6.1%</div>
<div class="t" style="left:27px;top:790.15px;width:53px;height:24.13px;line-height:24.13px;font-size:15px;">6-9</div>
<div class="t" style="left:80px;top:790.15px;width:53px;height:24.13px;line-height:24.13px;font-size:15px;text-align:right;padding-right:1.5px;">20.5</div>
<div class="t" style="left:133px;top:790.15px;width:54px;height:24.13px;line-height:24.13px;font-size:15px;text-align:right;padding-right:1.5px;">19.5</div>
<div class="t" style="left:187px;top:790.15px;width:54px;height:24.13px;line-height:24.13px;font-size:15px;text-align:right;padding-right:1.5px;">5.1%</div>
<div class="t" style="left:27px;top:814.28px;width:53px;height:24.13px;line-height:24.13px;font-size:15px;">1-10</div>
<div class="t" style="left:80px;top:814.28px;width:53px;height:24.13px;line-height:24.13px;font-size:15px;text-align:right;padding-right:1.5px;">21.2</div>
<div class="t" style="left:133px;top:814.28px;width:54px;height:24.13px;line-height:24.13px;font-size:15px;text-align:right;padding-right:1.5px;">24.9</div>
<div class="t" style="left:187px;top:814.28px;width:54px;height:24.13px;line-height:24.13px;font-size:15px;text-align:right;padding-right:1.5px;">4.0%</div>
<div class="t" style="left:27px;top:838.41px;width:53px;height:24.13px;line-height:24.13px;font-size:15px;">7-8</div>
<div class="t" style="left:80px;top:838.41px;width:53px;height:24.13px;line-height:24.13px;font-size:15px;text-align:right;padding-right:1.5px;">24.9</div>
<div class="t" style="left:133px;top:838.41px;width:54px;height:24.13px;line-height:24.13px;font-size:15px;text-align:right;padding-right:1.5px;">31.2</div>
<div class="t" style="left:187px;top:838.41px;width:54px;height:24.13px;line-height:24.13px;font-size:15px;text-align:right;padding-right:1.5px;">3.2%</div>
<div class="t" style="left:27px;top:862.54px;width:53px;height:24.13px;line-height:24.13px;font-size:15px;">1-8</div>
<div class="t" style="left:80px;top:862.54px;width:53px;height:24.13px;line-height:24.13px;font-size:15px;text-align:right;padding-right:1.5px;">15.4</div>
<div class="t" style="left:133px;top:862.54px;width:54px;height:24.13px;line-height:24.13px;font-size:15px;text-align:right;padding-right:1.5px;">32.8</div>
<div class="t" style="left:187px;top:862.54px;width:54px;height:24.13px;line-height:24.13px;font-size:15px;text-align:right;padding-right:1.5px;">3.0%</div>
<div class="t" style="left:27px;top:886.67px;width:53px;height:24.13px;line-height:24.13px;font-size:15px;">1-7</div>
<div class="t" style="left:80px;top:886.67px;width:53px;height:24.13px;line-height:24.13px;font-size:15px;text-align:right;padding-right:1.5px;">33.7</div>
<div class="t" style="left:133px;top:886.67px;width:54px;height:24.13px;line-height:24.13px;font-size:15px;text-align:right;padding-right:1.5px;">34.6</div>
<div class="t" style="left:187px;top:886.67px;width:54px;height:24.13px;line-height:24.13px;font-size:15px;text-align:right;padding-right:1.5px;">2.9%</div>
<div class="t" style="left:27px;top:910.8px;width:53px;height:24.13px;line-height:24.13px;font-size:15px;">3-9</div>
<div class="t" style="left:80px;top:910.8px;width:53px;height:24.13px;line-height:24.13px;font-size:15px;text-align:right;padding-right:1.5px;">24.6</div>
<div class="t" style="left:133px;top:910.8px;width:54px;height:24.13px;line-height:24.13px;font-size:15px;text-align:right;padding-right:1.5px;">38.9</div>
<div class="t" style="left:187px;top:910.8px;width:54px;height:24.13px;line-height:24.13px;font-size:15px;text-align:right;padding-right:1.5px;">2.6%</div>
<div class="t" style="left:27px;top:934.93px;width:53px;height:24.13px;line-height:24.13px;font-size:15px;">2-9</div>
<div class="t" style="left:80px;top:934.93px;width:53px;height:24.13px;line-height:24.13px;font-size:15px;text-align:right;padding-right:1.5px;">32.2</div>
<div class="t" style="left:133px;top:934.93px;width:54px;height:24.13px;line-height:24.13px;font-size:15px;text-align:right;padding-right:1.5px;">38.9</div>
<div class="t" style="left:187px;top:934.93px;width:54px;height:24.13px;line-height:24.13px;font-size:15px;text-align:right;padding-right:1.5px;">2.6%</div>
<div class="t" style="left:27px;top:959.06px;width:53px;height:24.13px;line-height:24.13px;font-size:15px;">7-10</div>
<div class="t" style="left:80px;top:959.06px;width:53px;height:24.13px;line-height:24.13px;font-size:15px;text-align:right;padding-right:1.5px;">24.8</div>
<div class="t" style="left:133px;top:959.06px;width:54px;height:24.13px;line-height:24.13px;font-size:15px;text-align:right;padding-right:1.5px;">47.9</div>
<div class="t" style="left:187px;top:959.06px;width:54px;height:24.13px;line-height:24.13px;font-size:15px;text-align:right;padding-right:1.5px;">2.1%</div>
<div style="left:255px;top:620px;width:215px;height:1px;background:#707070"></div>
<div style="left:255px;top:620px;width:1px;height:31px;background:#707070"></div>
<div style="left:469px;top:620px;width:1px;height:31px;background:#707070"></div>
<div style="left:259.2px;top:630.4px;width:9.6px;height:9.6px;border-radius:50%;background:#222"></div>
<div class="t" style="left:272px;top:619.3px;width:197px;height:30px;line-height:30px;font-size:15px;text-align:left;padding-left:0px;">推定ワイド出現率</div>
<div style="left:255px;top:650px;width:215px;height:20px;background:#1f3864"></div>
<div style="left:309px;top:650px;width:1px;height:20px;background:#3b4a68"></div>
<div style="left:362px;top:650px;width:1px;height:20px;background:#3b4a68"></div>
<div style="left:415px;top:650px;width:1px;height:20px;background:#3b4a68"></div>
<div style="left:255px;top:650px;width:1px;height:20px;background:#1a2848"></div>
<div style="left:469px;top:650px;width:1px;height:20px;background:#1a2848"></div>
<div class="t" style="left:255px;top:649.5px;width:54px;height:20px;line-height:20px;font-size:11px;color:#fff;font-weight:bold;">馬番</div>
<div class="t" style="left:309px;top:649.5px;width:53px;height:20px;line-height:20px;font-size:11px;color:#fff;font-weight:bold;">オッズ</div>
<div class="t" style="left:362px;top:649.5px;width:53px;height:20px;line-height:20px;font-size:11px;color:#fff;font-weight:bold;">ボーダー</div>
<div class="t" style="left:415px;top:649.5px;width:54px;height:20px;line-height:20px;font-size:11px;color:#fff;font-weight:bold;">出現率</div>
<div style="left:255px;top:694.13px;width:214px;height:24.13px;background:#dfeafc"></div>
<div style="left:255px;top:742.39px;width:214px;height:24.13px;background:#dfeafc"></div>
<div style="left:255px;top:790.65px;width:214px;height:24.13px;background:#dfeafc"></div>
<div style="left:255px;top:838.91px;width:214px;height:24.13px;background:#dfeafc"></div>
<div style="left:255px;top:670px;width:215px;height:1px;background:#7c7c7c"></div>
<div style="left:255px;top:694.13px;width:215px;height:1px;background:#7c7c7c"></div>
<div style="left:255px;top:718.26px;width:215px;height:1px;background:#7c7c7c"></div>
<div style="left:255px;top:742.39px;width:215px;height:1px;background:#7c7c7c"></div>
<div style="left:255px;top:766.52px;width:215px;height:1px;background:#7c7c7c"></div>
<div style="left:255px;top:790.65px;width:215px;height:1px;background:#7c7c7c"></div>
<div style="left:255px;top:814.78px;width:215px;height:1px;background:#7c7c7c"></div>
<div style="left:255px;top:838.91px;width:215px;height:1px;background:#7c7c7c"></div>
<div style="left:255px;top:863.04px;width:215px;height:1px;background:#7c7c7c"></div>
<div style="left:255px;top:887.17px;width:215px;height:1px;background:#7c7c7c"></div>
<div style="left:255px;top:670px;width:1px;height:218.17px;background:#7c7c7c"></div>
<div style="left:309px;top:670px;width:1px;height:218.17px;background:#7c7c7c"></div>
<div style="left:362px;top:670px;width:1px;height:218.17px;background:#7c7c7c"></div>
<div style="left:415px;top:670px;width:1px;height:218.17px;background:#7c7c7c"></div>
<div style="left:469px;top:670px;width:1px;height:218.17px;background:#7c7c7c"></div>
<div style="left:255px;top:670px;width:1px;height:218.17px;background:#707070"></div>
<div style="left:469px;top:670px;width:1px;height:218.17px;background:#707070"></div>
<div class="t" style="left:255px;top:669.5px;width:54px;height:24.13px;line-height:24.13px;font-size:15px;">8-9</div>
<div class="t" style="left:309px;top:669.5px;width:53px;height:24.13px;line-height:24.13px;font-size:15px;text-align:right;padding-right:1.5px;">2.3</div>
<div class="t" style="left:362px;top:669.5px;width:53px;height:24.13px;line-height:24.13px;font-size:15px;text-align:right;padding-right:1.5px;">3.1</div>
<div class="t" style="left:415px;top:669.5px;width:54px;height:24.13px;line-height:24.13px;font-size:15px;text-align:right;padding-right:1.5px;">32.1%</div>
<div class="t" style="left:255px;top:693.63px;width:54px;height:24.13px;line-height:24.13px;font-size:15px;">9-10</div>
<div class="t" style="left:309px;top:693.63px;width:53px;height:24.13px;line-height:24.13px;font-size:15px;text-align:right;padding-right:1.5px;">2.7</div>
<div class="t" style="left:362px;top:693.63px;width:53px;height:24.13px;line-height:24.13px;font-size:15px;text-align:right;padding-right:1.5px;">3.5</div>
<div class="t" style="left:415px;top:693.63px;width:54px;height:24.13px;line-height:24.13px;font-size:15px;text-align:right;padding-right:1.5px;">28.9%</div>
<div class="t" style="left:255px;top:717.76px;width:54px;height:24.13px;line-height:24.13px;font-size:15px;">1-9</div>
<div class="t" style="left:309px;top:717.76px;width:53px;height:24.13px;line-height:24.13px;font-size:15px;text-align:right;padding-right:1.5px;">3.4</div>
<div class="t" style="left:362px;top:717.76px;width:53px;height:24.13px;line-height:24.13px;font-size:15px;text-align:right;padding-right:1.5px;">4.6</div>
<div class="t" style="left:415px;top:717.76px;width:54px;height:24.13px;line-height:24.13px;font-size:15px;text-align:right;padding-right:1.5px;">21.7%</div>
<div class="t" style="left:255px;top:741.89px;width:54px;height:24.13px;line-height:24.13px;font-size:15px;">8-10</div>
<div class="t" style="left:309px;top:741.89px;width:53px;height:24.13px;line-height:24.13px;font-size:15px;text-align:right;padding-right:1.5px;">4.4</div>
<div class="t" style="left:362px;top:741.89px;width:53px;height:24.13px;line-height:24.13px;font-size:15px;text-align:right;padding-right:1.5px;">5.3</div>
<div class="t" style="left:415px;top:741.89px;width:54px;height:24.13px;line-height:24.13px;font-size:15px;text-align:right;padding-right:1.5px;">18.9%</div>
<div class="t" style="left:255px;top:766.02px;width:54px;height:24.13px;line-height:24.13px;font-size:15px;">7-9</div>
<div class="t" style="left:309px;top:766.02px;width:53px;height:24.13px;line-height:24.13px;font-size:15px;text-align:right;padding-right:1.5px;">4.7</div>
<div class="t" style="left:362px;top:766.02px;width:53px;height:24.13px;line-height:24.13px;font-size:15px;text-align:right;padding-right:1.5px;">6.1</div>
<div class="t" style="left:415px;top:766.02px;width:54px;height:24.13px;line-height:24.13px;font-size:15px;text-align:right;padding-right:1.5px;">16.4%</div>
<div class="t" style="left:255px;top:790.15px;width:54px;height:24.13px;line-height:24.13px;font-size:15px;">1-10</div>
<div class="t" style="left:309px;top:790.15px;width:53px;height:24.13px;line-height:24.13px;font-size:15px;text-align:right;padding-right:1.5px;">6.2</div>
<div class="t" style="left:362px;top:790.15px;width:53px;height:24.13px;line-height:24.13px;font-size:15px;text-align:right;padding-right:1.5px;">6.9</div>
<div class="t" style="left:415px;top:790.15px;width:54px;height:24.13px;line-height:24.13px;font-size:15px;text-align:right;padding-right:1.5px;">14.4%</div>
<div class="t" style="left:255px;top:814.28px;width:54px;height:24.13px;line-height:24.13px;font-size:15px;">1-8</div>
<div class="t" style="left:309px;top:814.28px;width:53px;height:24.13px;line-height:24.13px;font-size:15px;text-align:right;padding-right:1.5px;">5.7</div>
<div class="t" style="left:362px;top:814.28px;width:53px;height:24.13px;line-height:24.13px;font-size:15px;text-align:right;padding-right:1.5px;">7.7</div>
<div class="t" style="left:415px;top:814.28px;width:54px;height:24.13px;line-height:24.13px;font-size:15px;text-align:right;padding-right:1.5px;">13.0%</div>
<div class="t" style="left:255px;top:838.41px;width:54px;height:24.13px;line-height:24.13px;font-size:15px;">6-9</div>
<div class="t" style="left:309px;top:838.41px;width:53px;height:24.13px;line-height:24.13px;font-size:15px;text-align:right;padding-right:1.5px;">6.0</div>
<div class="t" style="left:362px;top:838.41px;width:53px;height:24.13px;line-height:24.13px;font-size:15px;text-align:right;padding-right:1.5px;">8.4</div>
<div class="t" style="left:415px;top:838.41px;width:54px;height:24.13px;line-height:24.13px;font-size:15px;text-align:right;padding-right:1.5px;">11.9%</div>
<div class="t" style="left:255px;top:862.54px;width:54px;height:24.13px;line-height:24.13px;font-size:15px;">7-8</div>
<div class="t" style="left:309px;top:862.54px;width:53px;height:24.13px;line-height:24.13px;font-size:15px;text-align:right;padding-right:1.5px;">7.3</div>
<div class="t" style="left:362px;top:862.54px;width:53px;height:24.13px;line-height:24.13px;font-size:15px;text-align:right;padding-right:1.5px;">9.0</div>
<div class="t" style="left:415px;top:862.54px;width:54px;height:24.13px;line-height:24.13px;font-size:15px;text-align:right;padding-right:1.5px;">11.1%</div>
<div style="left:483px;top:620px;width:215px;height:1px;background:#707070"></div>
<div style="left:483px;top:620px;width:1px;height:31px;background:#707070"></div>
<div style="left:697px;top:620px;width:1px;height:31px;background:#707070"></div>
<div style="left:487.2px;top:630.4px;width:9.6px;height:9.6px;border-radius:50%;background:#222"></div>
<div class="t" style="left:500px;top:619.3px;width:197px;height:30px;line-height:30px;font-size:15px;text-align:left;padding-left:0px;">推定3連複出現率</div>
<div style="left:483px;top:650px;width:215px;height:20px;background:#1f3864"></div>
<div style="left:537px;top:650px;width:1px;height:20px;background:#3b4a68"></div>
<div style="left:590px;top:650px;width:1px;height:20px;background:#3b4a68"></div>
<div style="left:644px;top:650px;width:1px;height:20px;background:#3b4a68"></div>
<div style="left:483px;top:650px;width:1px;height:20px;background:#1a2848"></div>
<div style="left:697px;top:650px;width:1px;height:20px;background:#1a2848"></div>
<div class="t" style="left:483px;top:649.5px;width:54px;height:20px;line-height:20px;font-size:11px;color:#fff;font-weight:bold;">馬番</div>
<div class="t" style="left:537px;top:649.5px;width:53px;height:20px;line-height:20px;font-size:11px;color:#fff;font-weight:bold;">オッズ</div>
<div class="t" style="left:590px;top:649.5px;width:54px;height:20px;line-height:20px;font-size:11px;color:#fff;font-weight:bold;">ボーダー</div>
<div class="t" style="left:644px;top:649.5px;width:53px;height:20px;line-height:20px;font-size:11px;color:#fff;font-weight:bold;">出現率</div>
<div style="left:483px;top:694.13px;width:214px;height:24.13px;background:#dfeafc"></div>
<div style="left:483px;top:742.39px;width:214px;height:24.13px;background:#dfeafc"></div>
<div style="left:483px;top:790.65px;width:214px;height:24.13px;background:#dfeafc"></div>
<div style="left:483px;top:838.91px;width:214px;height:24.13px;background:#dfeafc"></div>
<div style="left:483px;top:887.17px;width:214px;height:24.13px;background:#dfeafc"></div>
<div style="left:483px;top:935.43px;width:214px;height:24.13px;background:#dfeafc"></div>
<div style="left:483px;top:670px;width:215px;height:1px;background:#7c7c7c"></div>
<div style="left:483px;top:694.13px;width:215px;height:1px;background:#7c7c7c"></div>
<div style="left:483px;top:718.26px;width:215px;height:1px;background:#7c7c7c"></div>
<div style="left:483px;top:742.39px;width:215px;height:1px;background:#7c7c7c"></div>
<div style="left:483px;top:766.52px;width:215px;height:1px;background:#7c7c7c"></div>
<div style="left:483px;top:790.65px;width:215px;height:1px;background:#7c7c7c"></div>
<div style="left:483px;top:814.78px;width:215px;height:1px;background:#7c7c7c"></div>
<div style="left:483px;top:838.91px;width:215px;height:1px;background:#7c7c7c"></div>
<div style="left:483px;top:863.04px;width:215px;height:1px;background:#7c7c7c"></div>
<div style="left:483px;top:887.17px;width:215px;height:1px;background:#7c7c7c"></div>
<div style="left:483px;top:911.3px;width:215px;height:1px;background:#7c7c7c"></div>
<div style="left:483px;top:935.43px;width:215px;height:1px;background:#7c7c7c"></div>
<div style="left:483px;top:959.56px;width:215px;height:1px;background:#7c7c7c"></div>
<div style="left:483px;top:670px;width:1px;height:290.56px;background:#7c7c7c"></div>
<div style="left:537px;top:670px;width:1px;height:290.56px;background:#7c7c7c"></div>
<div style="left:590px;top:670px;width:1px;height:290.56px;background:#7c7c7c"></div>
<div style="left:644px;top:670px;width:1px;height:290.56px;background:#7c7c7c"></div>
<div style="left:697px;top:670px;width:1px;height:290.56px;background:#7c7c7c"></div>
<div style="left:483px;top:670px;width:1px;height:290.56px;background:#707070"></div>
<div style="left:697px;top:670px;width:1px;height:290.56px;background:#707070"></div>
<div class="t" style="left:483px;top:669.5px;width:54px;height:24.13px;line-height:24.13px;font-size:15px;">8-9-10</div>
<div class="t" style="left:537px;top:669.5px;width:53px;height:24.13px;line-height:24.13px;font-size:15px;text-align:right;padding-right:1.5px;">7.5</div>
<div class="t" style="left:590px;top:669.5px;width:54px;height:24.13px;line-height:24.13px;font-size:15px;text-align:right;padding-right:1.5px;">10.9</div>
<div class="t" style="left:644px;top:669.5px;width:53px;height:24.13px;line-height:24.13px;font-size:15px;text-align:right;padding-right:1.5px;">9.1%</div>
<div class="t" style="left:483px;top:693.63px;width:54px;height:24.13px;line-height:24.13px;font-size:15px;">1-9-10</div>
<div class="t" style="left:537px;top:693.63px;width:53px;height:24.13px;line-height:24.13px;font-size:15px;text-align:right;padding-right:1.5px;">12.2</div>
<div class="t" style="left:590px;top:693.63px;width:54px;height:24.13px;line-height:24.13px;font-size:15px;text-align:right;padding-right:1.5px;">15.2</div>
<div class="t" style="left:644px;top:693.63px;width:53px;height:24.13px;line-height:24.13px;font-size:15px;text-align:right;padding-right:1.5px;">6.6%</div>
<div class="t" style="left:483px;top:717.76px;width:54px;height:24.13px;line-height:24.13px;font-size:15px;">1-8-9</div>
<div class="t" style="left:537px;top:717.76px;width:53px;height:24.13px;line-height:24.13px;font-size:15px;text-align:right;padding-right:1.5px;">11.2</div>
<div class="t" style="left:590px;top:717.76px;width:54px;height:24.13px;line-height:24.13px;font-size:15px;text-align:right;padding-right:1.5px;">16.0</div>
<div class="t" style="left:644px;top:717.76px;width:53px;height:24.13px;line-height:24.13px;font-size:15px;text-align:right;padding-right:1.5px;">6.3%</div>
<div class="t" style="left:483px;top:741.89px;width:54px;height:24.13px;line-height:24.13px;font-size:15px;">7-8-9</div>
<div class="t" style="left:537px;top:741.89px;width:53px;height:24.13px;line-height:24.13px;font-size:15px;text-align:right;padding-right:1.5px;">15.2</div>
<div class="t" style="left:590px;top:741.89px;width:54px;height:24.13px;line-height:24.13px;font-size:15px;text-align:right;padding-right:1.5px;">17.3</div>
<div class="t" style="left:644px;top:741.89px;width:53px;height:24.13px;line-height:24.13px;font-size:15px;text-align:right;padding-right:1.5px;">5.8%</div>
<div class="t" style="left:483px;top:766.02px;width:54px;height:24.13px;line-height:24.13px;font-size:15px;">6-8-9</div>
<div class="t" style="left:537px;top:766.02px;width:53px;height:24.13px;line-height:24.13px;font-size:15px;text-align:right;padding-right:1.5px;">22.7</div>
<div class="t" style="left:590px;top:766.02px;width:54px;height:24.13px;line-height:24.13px;font-size:15px;text-align:right;padding-right:1.5px;">29.7</div>
<div class="t" style="left:644px;top:766.02px;width:53px;height:24.13px;line-height:24.13px;font-size:15px;text-align:right;padding-right:1.5px;">3.4%</div>
<div class="t" style="left:483px;top:790.15px;width:54px;height:24.13px;line-height:24.13px;font-size:15px;">1-7-9</div>
<div class="t" style="left:537px;top:790.15px;width:53px;height:24.13px;line-height:24.13px;font-size:15px;text-align:right;padding-right:1.5px;">23.7</div>
<div class="t" style="left:590px;top:790.15px;width:54px;height:24.13px;line-height:24.13px;font-size:15px;text-align:right;padding-right:1.5px;">32.8</div>
<div class="t" style="left:644px;top:790.15px;width:53px;height:24.13px;line-height:24.13px;font-size:15px;text-align:right;padding-right:1.5px;">3.0%</div>
<div class="t" style="left:483px;top:814.28px;width:54px;height:24.13px;line-height:24.13px;font-size:15px;">1-8-10</div>
<div class="t" style="left:537px;top:814.28px;width:53px;height:24.13px;line-height:24.13px;font-size:15px;text-align:right;padding-right:1.5px;">27.1</div>
<div class="t" style="left:590px;top:814.28px;width:54px;height:24.13px;line-height:24.13px;font-size:15px;text-align:right;padding-right:1.5px;">32.8</div>
<div class="t" style="left:644px;top:814.28px;width:53px;height:24.13px;line-height:24.13px;font-size:15px;text-align:right;padding-right:1.5px;">3.0%</div>
<div class="t" style="left:483px;top:838.41px;width:54px;height:24.13px;line-height:24.13px;font-size:15px;">7-9-10</div>
<div class="t" style="left:537px;top:838.41px;width:53px;height:24.13px;line-height:24.13px;font-size:15px;text-align:right;padding-right:1.5px;">22.4</div>
<div class="t" style="left:590px;top:838.41px;width:54px;height:24.13px;line-height:24.13px;font-size:15px;text-align:right;padding-right:1.5px;">34.6</div>
<div class="t" style="left:644px;top:838.41px;width:53px;height:24.13px;line-height:24.13px;font-size:15px;text-align:right;padding-right:1.5px;">2.9%</div>
<div class="t" style="left:483px;top:862.54px;width:54px;height:24.13px;line-height:24.13px;font-size:15px;">6-9-10</div>
<div class="t" style="left:537px;top:862.54px;width:53px;height:24.13px;line-height:24.13px;font-size:15px;text-align:right;padding-right:1.5px;">21.7</div>
<div class="t" style="left:590px;top:862.54px;width:54px;height:24.13px;line-height:24.13px;font-size:15px;text-align:right;padding-right:1.5px;">34.6</div>
<div class="t" style="left:644px;top:862.54px;width:53px;height:24.13px;line-height:24.13px;font-size:15px;text-align:right;padding-right:1.5px;">2.9%</div>
<div class="t" style="left:483px;top:886.67px;width:54px;height:24.13px;line-height:24.13px;font-size:15px;">3-9-10</div>
<div class="t" style="left:537px;top:886.67px;width:53px;height:24.13px;line-height:24.13px;font-size:15px;text-align:right;padding-right:1.5px;">29.8</div>
<div class="t" style="left:590px;top:886.67px;width:54px;height:24.13px;line-height:24.13px;font-size:15px;text-align:right;padding-right:1.5px;">34.6</div>
<div class="t" style="left:644px;top:886.67px;width:53px;height:24.13px;line-height:24.13px;font-size:15px;text-align:right;padding-right:1.5px;">2.9%</div>
<div class="t" style="left:483px;top:910.8px;width:54px;height:24.13px;line-height:24.13px;font-size:15px;">3-8-9</div>
<div class="t" style="left:537px;top:910.8px;width:53px;height:24.13px;line-height:24.13px;font-size:15px;text-align:right;padding-right:1.5px;">24.1</div>
<div class="t" style="left:590px;top:910.8px;width:54px;height:24.13px;line-height:24.13px;font-size:15px;text-align:right;padding-right:1.5px;">44.5</div>
<div class="t" style="left:644px;top:910.8px;width:53px;height:24.13px;line-height:24.13px;font-size:15px;text-align:right;padding-right:1.5px;">2.2%</div>
<div class="t" style="left:483px;top:934.93px;width:54px;height:24.13px;line-height:24.13px;font-size:15px;">4-8-9</div>
<div class="t" style="left:537px;top:934.93px;width:53px;height:24.13px;line-height:24.13px;font-size:15px;text-align:right;padding-right:1.5px;">36.8</div>
<div class="t" style="left:590px;top:934.93px;width:54px;height:24.13px;line-height:24.13px;font-size:15px;text-align:right;padding-right:1.5px;">47.9</div>
<div class="t" style="left:644px;top:934.93px;width:53px;height:24.13px;line-height:24.13px;font-size:15px;text-align:right;padding-right:1.5px;">2.1%</div>
<div style="left:27px;top:1022px;width:671px;height:33px;background:#1f3864"></div>
<div class="t" style="left:27px;top:1021.5px;width:660px;height:33px;line-height:33px;font-size:20px;text-align:left;color:#fff;font-weight:bold;padding-left:1px;letter-spacing:0.3px;">競馬クラスターAI　和の買い目分析</div>
<div class="t" style="left:27px;top:1055px;width:300px;height:26px;line-height:26px;font-size:15px;text-align:left;padding-left:0px;">レース数：623</div>
<div style="left:27px;top:1083px;width:218px;height:1px;background:#707070"></div>
<div style="left:27px;top:1083px;width:1px;height:30px;background:#707070"></div>
<div style="left:244px;top:1083px;width:1px;height:30px;background:#707070"></div>
<div style="left:31.2px;top:1091.9px;width:9.6px;height:9.6px;border-radius:50%;background:#222"></div>
<div class="t" style="left:44px;top:1081.5px;width:200px;height:29px;line-height:29px;font-size:15px;text-align:left;padding-left:0px;">和の買い目（馬連）</div>
<div style="left:27px;top:1112px;width:218px;height:51px;background:#1f3864"></div>
<div style="left:136px;top:1112px;width:1px;height:51px;background:#3b4a68"></div>
<div style="left:27px;top:1112px;width:1px;height:51px;background:#1a2848"></div>
<div style="left:244px;top:1112px;width:1px;height:51px;background:#1a2848"></div>
<div class="t" style="left:27px;top:1114px;width:109px;height:24px;line-height:24px;font-size:13px;color:#fff;font-weight:bold;">C人気</div>
<div class="t" style="left:27px;top:1134.5px;width:109px;height:24px;line-height:24px;font-size:13px;color:#fff;font-weight:bold;">合計値</div>
<div class="t" style="left:136px;top:1111.5px;width:108px;height:51px;line-height:51px;font-size:13px;color:#fff;font-weight:bold;">出現率</div>
<div style="left:27px;top:1187.15px;width:217px;height:24.15px;background:#dfeafc"></div>
<div style="left:27px;top:1235.45px;width:217px;height:24.15px;background:#dfeafc"></div>
<div style="left:27px;top:1259.6px;width:217px;height:24.15px;background:#ffd9a6"></div>
<div style="left:27px;top:1283.75px;width:217px;height:24.15px;background:#dfeafc"></div>
<div style="left:27px;top:1332.05px;width:217px;height:24.15px;background:#dfeafc"></div>
<div style="left:27px;top:1380.35px;width:217px;height:24.15px;background:#dfeafc"></div>
<div style="left:27px;top:1428.65px;width:217px;height:24.15px;background:#dfeafc"></div>
<div style="left:27px;top:1163px;width:218px;height:1px;background:#7c7c7c"></div>
<div style="left:27px;top:1187.15px;width:218px;height:1px;background:#7c7c7c"></div>
<div style="left:27px;top:1211.3px;width:218px;height:1px;background:#7c7c7c"></div>
<div style="left:27px;top:1235.45px;width:218px;height:1px;background:#7c7c7c"></div>
<div style="left:27px;top:1259.6px;width:218px;height:1px;background:#7c7c7c"></div>
<div style="left:27px;top:1283.75px;width:218px;height:1px;background:#7c7c7c"></div>
<div style="left:27px;top:1307.9px;width:218px;height:1px;background:#7c7c7c"></div>
<div style="left:27px;top:1332.05px;width:218px;height:1px;background:#7c7c7c"></div>
<div style="left:27px;top:1356.2px;width:218px;height:1px;background:#7c7c7c"></div>
<div style="left:27px;top:1380.35px;width:218px;height:1px;background:#7c7c7c"></div>
<div style="left:27px;top:1404.5px;width:218px;height:1px;background:#7c7c7c"></div>
<div style="left:27px;top:1428.65px;width:218px;height:1px;background:#7c7c7c"></div>
<div style="left:27px;top:1452.8px;width:218px;height:1px;background:#7c7c7c"></div>
<div style="left:27px;top:1476.95px;width:218px;height:1px;background:#7c7c7c"></div>
<div style="left:27px;top:1163px;width:1px;height:314.95px;background:#7c7c7c"></div>
<div style="left:136px;top:1163px;width:1px;height:314.95px;background:#7c7c7c"></div>
<div style="left:244px;top:1163px;width:1px;height:314.95px;background:#7c7c7c"></div>
<div style="left:27px;top:1163px;width:1px;height:314.95px;background:#707070"></div>
<div style="left:244px;top:1163px;width:1px;height:314.95px;background:#707070"></div>
<div class="t" style="left:27px;top:1162.5px;width:109px;height:24.15px;line-height:24.15px;font-size:15px;">3</div>
<div class="t" style="left:136px;top:1162.5px;width:108px;height:24.15px;line-height:24.15px;font-size:15px;text-align:right;padding-right:1.5px;">15.2%</div>
<div class="t" style="left:27px;top:1186.65px;width:109px;height:24.15px;line-height:24.15px;font-size:15px;">4</div>
<div class="t" style="left:136px;top:1186.65px;width:108px;height:24.15px;line-height:24.15px;font-size:15px;text-align:right;padding-right:1.5px;">14.4%</div>
<div class="t" style="left:27px;top:1210.8px;width:109px;height:24.15px;line-height:24.15px;font-size:15px;">5</div>
<div class="t" style="left:136px;top:1210.8px;width:108px;height:24.15px;line-height:24.15px;font-size:15px;text-align:right;padding-right:1.5px;">16.7%</div>
<div class="t" style="left:27px;top:1234.95px;width:109px;height:24.15px;line-height:24.15px;font-size:15px;">6</div>
<div class="t" style="left:136px;top:1234.95px;width:108px;height:24.15px;line-height:24.15px;font-size:15px;text-align:right;padding-right:1.5px;">9.1%</div>
<div class="t" style="left:27px;top:1259.1px;width:109px;height:24.15px;line-height:24.15px;font-size:15px;">7</div>
<div class="t" style="left:136px;top:1259.1px;width:108px;height:24.15px;line-height:24.15px;font-size:15px;text-align:right;padding-right:1.5px;">12.4%</div>
<div class="t" style="left:27px;top:1283.25px;width:109px;height:24.15px;line-height:24.15px;font-size:15px;">8</div>
<div class="t" style="left:136px;top:1283.25px;width:108px;height:24.15px;line-height:24.15px;font-size:15px;text-align:right;padding-right:1.5px;">6.3%</div>
<div class="t" style="left:27px;top:1307.4px;width:109px;height:24.15px;line-height:24.15px;font-size:15px;">9</div>
<div class="t" style="left:136px;top:1307.4px;width:108px;height:24.15px;line-height:24.15px;font-size:15px;text-align:right;padding-right:1.5px;">9.1%</div>
<div class="t" style="left:27px;top:1331.55px;width:109px;height:24.15px;line-height:24.15px;font-size:15px;">10</div>
<div class="t" style="left:136px;top:1331.55px;width:108px;height:24.15px;line-height:24.15px;font-size:15px;text-align:right;padding-right:1.5px;">4.7%</div>
<div class="t" style="left:27px;top:1355.7px;width:109px;height:24.15px;line-height:24.15px;font-size:15px;">11</div>
<div class="t" style="left:136px;top:1355.7px;width:108px;height:24.15px;line-height:24.15px;font-size:15px;text-align:right;padding-right:1.5px;">3.4%</div>
<div class="t" style="left:27px;top:1379.85px;width:109px;height:24.15px;line-height:24.15px;font-size:15px;">12</div>
<div class="t" style="left:136px;top:1379.85px;width:108px;height:24.15px;line-height:24.15px;font-size:15px;text-align:right;padding-right:1.5px;">2.9%</div>
<div class="t" style="left:27px;top:1404px;width:109px;height:24.15px;line-height:24.15px;font-size:15px;">13</div>
<div class="t" style="left:136px;top:1404px;width:108px;height:24.15px;line-height:24.15px;font-size:15px;text-align:right;padding-right:1.5px;">1.8%</div>
<div class="t" style="left:27px;top:1428.15px;width:109px;height:24.15px;line-height:24.15px;font-size:15px;">14</div>
<div class="t" style="left:136px;top:1428.15px;width:108px;height:24.15px;line-height:24.15px;font-size:15px;text-align:right;padding-right:1.5px;">2.1%</div>
<div class="t" style="left:27px;top:1452.3px;width:109px;height:24.15px;line-height:24.15px;font-size:15px;">15+</div>
<div class="t" style="left:136px;top:1452.3px;width:108px;height:24.15px;line-height:24.15px;font-size:15px;text-align:right;padding-right:1.5px;">1.4%</div>
<div style="left:254px;top:1083px;width:218px;height:1px;background:#707070"></div>
<div style="left:254px;top:1083px;width:1px;height:30px;background:#707070"></div>
<div style="left:471px;top:1083px;width:1px;height:30px;background:#707070"></div>
<div style="left:258.2px;top:1091.9px;width:9.6px;height:9.6px;border-radius:50%;background:#222"></div>
<div class="t" style="left:271px;top:1081.5px;width:200px;height:29px;line-height:29px;font-size:15px;text-align:left;padding-left:0px;">和の買い目（ワイド）</div>
<div style="left:254px;top:1112px;width:218px;height:51px;background:#1f3864"></div>
<div style="left:362px;top:1112px;width:1px;height:51px;background:#3b4a68"></div>
<div style="left:254px;top:1112px;width:1px;height:51px;background:#1a2848"></div>
<div style="left:471px;top:1112px;width:1px;height:51px;background:#1a2848"></div>
<div class="t" style="left:254px;top:1114px;width:108px;height:24px;line-height:24px;font-size:13px;color:#fff;font-weight:bold;">C人気</div>
<div class="t" style="left:254px;top:1134.5px;width:108px;height:24px;line-height:24px;font-size:13px;color:#fff;font-weight:bold;">合計値</div>
<div class="t" style="left:362px;top:1111.5px;width:109px;height:51px;line-height:51px;font-size:13px;color:#fff;font-weight:bold;">出現率</div>
<div style="left:254px;top:1187.15px;width:217px;height:24.15px;background:#dfeafc"></div>
<div style="left:254px;top:1235.45px;width:217px;height:24.15px;background:#dfeafc"></div>
<div style="left:254px;top:1283.75px;width:217px;height:24.15px;background:#dfeafc"></div>
<div style="left:254px;top:1332.05px;width:217px;height:24.15px;background:#dfeafc"></div>
<div style="left:254px;top:1380.35px;width:217px;height:24.15px;background:#dfeafc"></div>
<div style="left:254px;top:1428.65px;width:217px;height:24.15px;background:#dfeafc"></div>
<div style="left:254px;top:1163px;width:218px;height:1px;background:#7c7c7c"></div>
<div style="left:254px;top:1187.15px;width:218px;height:1px;background:#7c7c7c"></div>
<div style="left:254px;top:1211.3px;width:218px;height:1px;background:#7c7c7c"></div>
<div style="left:254px;top:1235.45px;width:218px;height:1px;background:#7c7c7c"></div>
<div style="left:254px;top:1259.6px;width:218px;height:1px;background:#7c7c7c"></div>
<div style="left:254px;top:1283.75px;width:218px;height:1px;background:#7c7c7c"></div>
<div style="left:254px;top:1307.9px;width:218px;height:1px;background:#7c7c7c"></div>
<div style="left:254px;top:1332.05px;width:218px;height:1px;background:#7c7c7c"></div>
<div style="left:254px;top:1356.2px;width:218px;height:1px;background:#7c7c7c"></div>
<div style="left:254px;top:1380.35px;width:218px;height:1px;background:#7c7c7c"></div>
<div style="left:254px;top:1404.5px;width:218px;height:1px;background:#7c7c7c"></div>
<div style="left:254px;top:1428.65px;width:218px;height:1px;background:#7c7c7c"></div>
<div style="left:254px;top:1452.8px;width:218px;height:1px;background:#7c7c7c"></div>
<div style="left:254px;top:1476.95px;width:218px;height:1px;background:#7c7c7c"></div>
<div style="left:254px;top:1163px;width:1px;height:314.95px;background:#7c7c7c"></div>
<div style="left:362px;top:1163px;width:1px;height:314.95px;background:#7c7c7c"></div>
<div style="left:471px;top:1163px;width:1px;height:314.95px;background:#7c7c7c"></div>
<div style="left:254px;top:1163px;width:1px;height:314.95px;background:#707070"></div>
<div style="left:471px;top:1163px;width:1px;height:314.95px;background:#707070"></div>
<div class="t" style="left:254px;top:1162.5px;width:108px;height:24.15px;line-height:24.15px;font-size:15px;">3</div>
<div class="t" style="left:362px;top:1162.5px;width:109px;height:24.15px;line-height:24.15px;font-size:15px;text-align:right;padding-right:1.5px;">32.1%</div>
<div class="t" style="left:254px;top:1186.65px;width:108px;height:24.15px;line-height:24.15px;font-size:15px;">4</div>
<div class="t" style="left:362px;top:1186.65px;width:109px;height:24.15px;line-height:24.15px;font-size:15px;text-align:right;padding-right:1.5px;">28.9%</div>
<div class="t" style="left:254px;top:1210.8px;width:108px;height:24.15px;line-height:24.15px;font-size:15px;">5</div>
<div class="t" style="left:362px;top:1210.8px;width:109px;height:24.15px;line-height:24.15px;font-size:15px;text-align:right;padding-right:1.5px;">40.6%</div>
<div class="t" style="left:254px;top:1234.95px;width:108px;height:24.15px;line-height:24.15px;font-size:15px;">6</div>
<div class="t" style="left:362px;top:1234.95px;width:109px;height:24.15px;line-height:24.15px;font-size:15px;text-align:right;padding-right:1.5px;">29.4%</div>
<div class="t" style="left:254px;top:1259.1px;width:108px;height:24.15px;line-height:24.15px;font-size:15px;">7</div>
<div class="t" style="left:362px;top:1259.1px;width:109px;height:24.15px;line-height:24.15px;font-size:15px;text-align:right;padding-right:1.5px;">37.4%</div>
<div class="t" style="left:254px;top:1283.25px;width:108px;height:24.15px;line-height:24.15px;font-size:15px;">8</div>
<div class="t" style="left:362px;top:1283.25px;width:109px;height:24.15px;line-height:24.15px;font-size:15px;text-align:right;padding-right:1.5px;">23.0%</div>
<div class="t" style="left:254px;top:1307.4px;width:108px;height:24.15px;line-height:24.15px;font-size:15px;">9</div>
<div class="t" style="left:362px;top:1307.4px;width:109px;height:24.15px;line-height:24.15px;font-size:15px;text-align:right;padding-right:1.5px;">27.1%</div>
<div class="t" style="left:254px;top:1331.55px;width:108px;height:24.15px;line-height:24.15px;font-size:15px;">10</div>
<div class="t" style="left:362px;top:1331.55px;width:109px;height:24.15px;line-height:24.15px;font-size:15px;text-align:right;padding-right:1.5px;">20.9%</div>
<div class="t" style="left:254px;top:1355.7px;width:108px;height:24.15px;line-height:24.15px;font-size:15px;">11</div>
<div class="t" style="left:362px;top:1355.7px;width:109px;height:24.15px;line-height:24.15px;font-size:15px;text-align:right;padding-right:1.5px;">17.3%</div>
<div class="t" style="left:254px;top:1379.85px;width:108px;height:24.15px;line-height:24.15px;font-size:15px;">12</div>
<div class="t" style="left:362px;top:1379.85px;width:109px;height:24.15px;line-height:24.15px;font-size:15px;text-align:right;padding-right:1.5px;">14.8%</div>
<div class="t" style="left:254px;top:1404px;width:108px;height:24.15px;line-height:24.15px;font-size:15px;">13</div>
<div class="t" style="left:362px;top:1404px;width:109px;height:24.15px;line-height:24.15px;font-size:15px;text-align:right;padding-right:1.5px;">8.5%</div>
<div class="t" style="left:254px;top:1428.15px;width:108px;height:24.15px;line-height:24.15px;font-size:15px;">14</div>
<div class="t" style="left:362px;top:1428.15px;width:109px;height:24.15px;line-height:24.15px;font-size:15px;text-align:right;padding-right:1.5px;">7.7%</div>
<div class="t" style="left:254px;top:1452.3px;width:108px;height:24.15px;line-height:24.15px;font-size:15px;">15+</div>
<div class="t" style="left:362px;top:1452.3px;width:109px;height:24.15px;line-height:24.15px;font-size:15px;text-align:right;padding-right:1.5px;">11.9%</div>
<div style="left:480px;top:1083px;width:218px;height:1px;background:#707070"></div>
<div style="left:480px;top:1083px;width:1px;height:30px;background:#707070"></div>
<div style="left:697px;top:1083px;width:1px;height:30px;background:#707070"></div>
<div style="left:484.2px;top:1091.9px;width:9.6px;height:9.6px;border-radius:50%;background:#222"></div>
<div class="t" style="left:497px;top:1081.5px;width:200px;height:29px;line-height:29px;font-size:15px;text-align:left;padding-left:0px;">和の買い目（3連複）</div>
<div style="left:480px;top:1112px;width:218px;height:51px;background:#1f3864"></div>
<div style="left:589px;top:1112px;width:1px;height:51px;background:#3b4a68"></div>
<div style="left:480px;top:1112px;width:1px;height:51px;background:#1a2848"></div>
<div style="left:697px;top:1112px;width:1px;height:51px;background:#1a2848"></div>
<div class="t" style="left:480px;top:1114px;width:109px;height:24px;line-height:24px;font-size:13px;color:#fff;font-weight:bold;">C人気</div>
<div class="t" style="left:480px;top:1134.5px;width:109px;height:24px;line-height:24px;font-size:13px;color:#fff;font-weight:bold;">合計値</div>
<div class="t" style="left:589px;top:1111.5px;width:108px;height:51px;line-height:51px;font-size:13px;color:#fff;font-weight:bold;">出現率</div>
<div style="left:480px;top:1187.15px;width:217px;height:24.15px;background:#dfeafc"></div>
<div style="left:480px;top:1235.45px;width:217px;height:24.15px;background:#dfeafc"></div>
<div style="left:480px;top:1283.75px;width:217px;height:24.15px;background:#dfeafc"></div>
<div style="left:480px;top:1332.05px;width:217px;height:24.15px;background:#dfeafc"></div>
<div style="left:480px;top:1356.2px;width:217px;height:24.15px;background:#ffd9a6"></div>
<div style="left:480px;top:1380.35px;width:217px;height:24.15px;background:#dfeafc"></div>
<div style="left:480px;top:1428.65px;width:217px;height:24.15px;background:#dfeafc"></div>
<div style="left:480px;top:1452.8px;width:217px;height:24.15px;background:#ff8c1a"></div>
<div style="left:480px;top:1163px;width:218px;height:1px;background:#7c7c7c"></div>
<div style="left:480px;top:1187.15px;width:218px;height:1px;background:#7c7c7c"></div>
<div style="left:480px;top:1211.3px;width:218px;height:1px;background:#7c7c7c"></div>
<div style="left:480px;top:1235.45px;width:218px;height:1px;background:#7c7c7c"></div>
<div style="left:480px;top:1259.6px;width:218px;height:1px;background:#7c7c7c"></div>
<div style="left:480px;top:1283.75px;width:218px;height:1px;background:#7c7c7c"></div>
<div style="left:480px;top:1307.9px;width:218px;height:1px;background:#7c7c7c"></div>
<div style="left:480px;top:1332.05px;width:218px;height:1px;background:#7c7c7c"></div>
<div style="left:480px;top:1356.2px;width:218px;height:1px;background:#7c7c7c"></div>
<div style="left:480px;top:1380.35px;width:218px;height:1px;background:#7c7c7c"></div>
<div style="left:480px;top:1404.5px;width:218px;height:1px;background:#7c7c7c"></div>
<div style="left:480px;top:1428.65px;width:218px;height:1px;background:#7c7c7c"></div>
<div style="left:480px;top:1452.8px;width:218px;height:1px;background:#7c7c7c"></div>
<div style="left:480px;top:1476.95px;width:218px;height:1px;background:#7c7c7c"></div>
<div style="left:480px;top:1163px;width:1px;height:314.95px;background:#7c7c7c"></div>
<div style="left:589px;top:1163px;width:1px;height:314.95px;background:#7c7c7c"></div>
<div style="left:697px;top:1163px;width:1px;height:314.95px;background:#7c7c7c"></div>
<div style="left:480px;top:1163px;width:1px;height:314.95px;background:#707070"></div>
<div style="left:697px;top:1163px;width:1px;height:314.95px;background:#707070"></div>
<div class="t" style="left:480px;top:1162.5px;width:109px;height:24.15px;line-height:24.15px;font-size:15px;">6</div>
<div class="t" style="left:589px;top:1162.5px;width:108px;height:24.15px;line-height:24.15px;font-size:15px;text-align:right;padding-right:1.5px;">9.1%</div>
<div class="t" style="left:480px;top:1186.65px;width:109px;height:24.15px;line-height:24.15px;font-size:15px;">7</div>
<div class="t" style="left:589px;top:1186.65px;width:108px;height:24.15px;line-height:24.15px;font-size:15px;text-align:right;padding-right:1.5px;">6.3%</div>
<div class="t" style="left:480px;top:1210.8px;width:109px;height:24.15px;line-height:24.15px;font-size:15px;">8</div>
<div class="t" style="left:589px;top:1210.8px;width:108px;height:24.15px;line-height:24.15px;font-size:15px;text-align:right;padding-right:1.5px;">12.4%</div>
<div class="t" style="left:480px;top:1234.95px;width:109px;height:24.15px;line-height:24.15px;font-size:15px;">9</div>
<div class="t" style="left:589px;top:1234.95px;width:108px;height:24.15px;line-height:24.15px;font-size:15px;text-align:right;padding-right:1.5px;">9.3%</div>
<div class="t" style="left:480px;top:1259.1px;width:109px;height:24.15px;line-height:24.15px;font-size:15px;">10</div>
<div class="t" style="left:589px;top:1259.1px;width:108px;height:24.15px;line-height:24.15px;font-size:15px;text-align:right;padding-right:1.5px;">10.1%</div>
<div class="t" style="left:480px;top:1283.25px;width:109px;height:24.15px;line-height:24.15px;font-size:15px;">11</div>
<div class="t" style="left:589px;top:1283.25px;width:108px;height:24.15px;line-height:24.15px;font-size:15px;text-align:right;padding-right:1.5px;">9.5%</div>
<div class="t" style="left:480px;top:1307.4px;width:109px;height:24.15px;line-height:24.15px;font-size:15px;">12</div>
<div class="t" style="left:589px;top:1307.4px;width:108px;height:24.15px;line-height:24.15px;font-size:15px;text-align:right;padding-right:1.5px;">9.1%</div>
<div class="t" style="left:480px;top:1331.55px;width:109px;height:24.15px;line-height:24.15px;font-size:15px;">13</div>
<div class="t" style="left:589px;top:1331.55px;width:108px;height:24.15px;line-height:24.15px;font-size:15px;text-align:right;padding-right:1.5px;">6.4%</div>
<div class="t" style="left:480px;top:1355.7px;width:109px;height:24.15px;line-height:24.15px;font-size:15px;">14</div>
<div class="t" style="left:589px;top:1355.7px;width:108px;height:24.15px;line-height:24.15px;font-size:15px;text-align:right;padding-right:1.5px;">6.6%</div>
<div class="t" style="left:480px;top:1379.85px;width:109px;height:24.15px;line-height:24.15px;font-size:15px;">15</div>
<div class="t" style="left:589px;top:1379.85px;width:108px;height:24.15px;line-height:24.15px;font-size:15px;text-align:right;padding-right:1.5px;">6.7%</div>
<div class="t" style="left:480px;top:1404px;width:109px;height:24.15px;line-height:24.15px;font-size:15px;">16</div>
<div class="t" style="left:589px;top:1404px;width:108px;height:24.15px;line-height:24.15px;font-size:15px;text-align:right;padding-right:1.5px;">4.5%</div>
<div class="t" style="left:480px;top:1428.15px;width:109px;height:24.15px;line-height:24.15px;font-size:15px;">17</div>
<div class="t" style="left:589px;top:1428.15px;width:108px;height:24.15px;line-height:24.15px;font-size:15px;text-align:right;padding-right:1.5px;">1.9%</div>
<div class="t" style="left:480px;top:1452.3px;width:109px;height:24.15px;line-height:24.15px;font-size:15px;">18+</div>
<div class="t" style="left:589px;top:1452.3px;width:108px;height:24.15px;line-height:24.15px;font-size:15px;text-align:right;padding-right:1.5px;">8.0%</div>
<div style="left:27px;top:1512px;width:671px;height:33px;background:#1f3864"></div>
<div class="t" style="left:27px;top:1511.5px;width:660px;height:33px;line-height:33px;font-size:20px;text-align:left;color:#fff;font-weight:bold;padding-left:1px;letter-spacing:0.8px;">船橋ダート1200m 過去レース分析</div>
<div style="left:27px;top:1553px;width:671px;height:1px;background:#707070"></div>
<div style="left:27px;top:1553px;width:1px;height:31px;background:#707070"></div>
<div style="left:697px;top:1553px;width:1px;height:31px;background:#707070"></div>
<div style="left:31.2px;top:1563.4px;width:9.6px;height:9.6px;border-radius:50%;background:#222"></div>
<div class="t" style="left:44px;top:1552.3px;width:653px;height:30px;line-height:30px;font-size:15px;text-align:left;padding-left:0px;">枠順別成績　過去10年　頭数：12頭</div>
<div style="left:27px;top:1583px;width:671px;height:31px;background:#1f3864"></div>
<div style="left:153px;top:1583px;width:1px;height:31px;background:#3b4a68"></div>
<div style="left:362px;top:1583px;width:1px;height:31px;background:#3b4a68"></div>
<div style="left:446px;top:1583px;width:1px;height:31px;background:#3b4a68"></div>
<div style="left:530px;top:1583px;width:1px;height:31px;background:#3b4a68"></div>
<div style="left:613px;top:1583px;width:1px;height:31px;background:#3b4a68"></div>
<div style="left:27px;top:1583px;width:1px;height:31px;background:#1a2848"></div>
<div style="left:697px;top:1583px;width:1px;height:31px;background:#1a2848"></div>
<div class="t" style="left:27px;top:1582.5px;width:126px;height:31px;line-height:31px;font-size:13px;color:#fff;font-weight:bold;">枠順</div>
<div class="t" style="left:153px;top:1582.5px;width:209px;height:31px;line-height:31px;font-size:13px;color:#fff;font-weight:bold;">着別度数</div>
<div class="t" style="left:362px;top:1582.5px;width:84px;height:31px;line-height:31px;font-size:13px;color:#fff;font-weight:bold;">勝率</div>
<div class="t" style="left:446px;top:1582.5px;width:84px;height:31px;line-height:31px;font-size:13px;color:#fff;font-weight:bold;">連対率</div>
<div class="t" style="left:530px;top:1582.5px;width:83px;height:31px;line-height:31px;font-size:13px;color:#fff;font-weight:bold;">複勝率</div>
<div class="t" style="left:613px;top:1582.5px;width:84px;height:31px;line-height:31px;font-size:13px;color:#fff;font-weight:bold;">評価</div>
<div style="left:27px;top:1638.13px;width:670px;height:24.13px;background:#dfeafc"></div>
<div style="left:27px;top:1686.39px;width:670px;height:24.13px;background:#dfeafc"></div>
<div style="left:27px;top:1734.65px;width:670px;height:24.13px;background:#dfeafc"></div>
<div style="left:27px;top:1782.91px;width:670px;height:24.13px;background:#dfeafc"></div>
<div style="left:27px;top:1614px;width:126px;height:24.13px;background:#f0f0f0"></div>
<div style="left:27px;top:1638.13px;width:126px;height:24.13px;background:#000000"></div>
<div style="left:27px;top:1662.26px;width:126px;height:24.13px;background:#e8412f"></div>
<div style="left:27px;top:1686.39px;width:126px;height:24.13px;background:#3f87f0"></div>
<div style="left:27px;top:1710.52px;width:126px;height:24.13px;background:#f5c800"></div>
<div style="left:27px;top:1734.65px;width:126px;height:24.13px;background:#22aa3c"></div>
<div style="left:27px;top:1758.78px;width:126px;height:24.13px;background:#e8961e"></div>
<div style="left:27px;top:1782.91px;width:126px;height:24.13px;background:#e0509a"></div>
<div style="left:27px;top:1614px;width:671px;height:1px;background:#7c7c7c"></div>
<div style="left:27px;top:1638.13px;width:671px;height:1px;background:#7c7c7c"></div>
<div style="left:27px;top:1662.26px;width:671px;height:1px;background:#7c7c7c"></div>
<div style="left:27px;top:1686.39px;width:671px;height:1px;background:#7c7c7c"></div>
<div style="left:27px;top:1710.52px;width:671px;height:1px;background:#7c7c7c"></div>
<div style="left:27px;top:1734.65px;width:671px;height:1px;background:#7c7c7c"></div>
<div style="left:27px;top:1758.78px;width:671px;height:1px;background:#7c7c7c"></div>
<div style="left:27px;top:1782.91px;width:671px;height:1px;background:#7c7c7c"></div>
<div style="left:27px;top:1807.04px;width:671px;height:1px;background:#7c7c7c"></div>
<div style="left:27px;top:1614px;width:1px;height:194.04px;background:#7c7c7c"></div>
<div style="left:153px;top:1614px;width:1px;height:194.04px;background:#7c7c7c"></div>
<div style="left:362px;top:1614px;width:1px;height:194.04px;background:#7c7c7c"></div>
<div style="left:446px;top:1614px;width:1px;height:194.04px;background:#7c7c7c"></div>
<div style="left:530px;top:1614px;width:1px;height:194.04px;background:#7c7c7c"></div>
<div style="left:613px;top:1614px;width:1px;height:194.04px;background:#7c7c7c"></div>
<div style="left:697px;top:1614px;width:1px;height:194.04px;background:#7c7c7c"></div>
<div style="left:27px;top:1614px;width:1px;height:194.04px;background:#707070"></div>
<div style="left:697px;top:1614px;width:1px;height:194.04px;background:#707070"></div>
<div class="t" style="left:27px;top:1613.5px;width:126px;height:24.13px;line-height:24.13px;font-size:14px;text-align:left;color:#222;padding-left:1px;">1枠</div>
<div class="t" style="left:153px;top:1613.5px;width:209px;height:24.13px;line-height:24.13px;font-size:15px;text-align:left;padding-left:3px;">88-112-102-1167</div>
<div class="t" style="left:362px;top:1613.5px;width:84px;height:24.13px;line-height:24.13px;font-size:15px;text-align:right;padding-right:1.5px;">6.0%</div>
<div class="t" style="left:446px;top:1613.5px;width:84px;height:24.13px;line-height:24.13px;font-size:15px;text-align:right;padding-right:1.5px;">13.6%</div>
<div class="t" style="left:530px;top:1613.5px;width:83px;height:24.13px;line-height:24.13px;font-size:15px;text-align:right;padding-right:1.5px;">20.6%</div>
<div class="t" style="left:613px;top:1613.5px;width:84px;height:24.13px;line-height:24.13px;font-size:15px;">D</div>
<div class="t" style="left:27px;top:1637.63px;width:126px;height:24.13px;line-height:24.13px;font-size:14px;text-align:left;color:#fff;padding-left:1px;">2枠</div>
<div class="t" style="left:153px;top:1637.63px;width:209px;height:24.13px;line-height:24.13px;font-size:15px;text-align:left;padding-left:3px;">112-102-121-1135</div>
<div class="t" style="left:362px;top:1637.63px;width:84px;height:24.13px;line-height:24.13px;font-size:15px;text-align:right;padding-right:1.5px;">7.6%</div>
<div class="t" style="left:446px;top:1637.63px;width:84px;height:24.13px;line-height:24.13px;font-size:15px;text-align:right;padding-right:1.5px;">14.6%</div>
<div class="t" style="left:530px;top:1637.63px;width:83px;height:24.13px;line-height:24.13px;font-size:15px;text-align:right;padding-right:1.5px;">22.8%</div>
<div class="t" style="left:613px;top:1637.63px;width:84px;height:24.13px;line-height:24.13px;font-size:15px;">D</div>
<div class="t" style="left:27px;top:1661.76px;width:126px;height:24.13px;line-height:24.13px;font-size:14px;text-align:left;color:#fff;padding-left:1px;">3枠</div>
<div class="t" style="left:153px;top:1661.76px;width:209px;height:24.13px;line-height:24.13px;font-size:15px;text-align:left;padding-left:3px;">106-106-108-1151</div>
<div class="t" style="left:362px;top:1661.76px;width:84px;height:24.13px;line-height:24.13px;font-size:15px;text-align:right;padding-right:1.5px;">7.2%</div>
<div class="t" style="left:446px;top:1661.76px;width:84px;height:24.13px;line-height:24.13px;font-size:15px;text-align:right;padding-right:1.5px;">14.4%</div>
<div class="t" style="left:530px;top:1661.76px;width:83px;height:24.13px;line-height:24.13px;font-size:15px;text-align:right;padding-right:1.5px;">21.8%</div>
<div class="t" style="left:613px;top:1661.76px;width:84px;height:24.13px;line-height:24.13px;font-size:15px;">D</div>
<div class="t" style="left:27px;top:1685.89px;width:126px;height:24.13px;line-height:24.13px;font-size:14px;text-align:left;color:#fff;padding-left:1px;">4枠</div>
<div class="t" style="left:153px;top:1685.89px;width:209px;height:24.13px;line-height:24.13px;font-size:15px;text-align:left;padding-left:3px;">101-119-114-1136</div>
<div class="t" style="left:362px;top:1685.89px;width:84px;height:24.13px;line-height:24.13px;font-size:15px;text-align:right;padding-right:1.5px;">6.9%</div>
<div class="t" style="left:446px;top:1685.89px;width:84px;height:24.13px;line-height:24.13px;font-size:15px;text-align:right;padding-right:1.5px;">15.0%</div>
<div class="t" style="left:530px;top:1685.89px;width:83px;height:24.13px;line-height:24.13px;font-size:15px;text-align:right;padding-right:1.5px;">22.7%</div>
<div class="t" style="left:613px;top:1685.89px;width:84px;height:24.13px;line-height:24.13px;font-size:15px;">D</div>
<div class="t" style="left:27px;top:1710.02px;width:126px;height:24.13px;line-height:24.13px;font-size:14px;text-align:left;color:#222;padding-left:1px;">5枠</div>
<div class="t" style="left:153px;top:1710.02px;width:209px;height:24.13px;line-height:24.13px;font-size:15px;text-align:left;padding-left:3px;">243-241-255-2193</div>
<div class="t" style="left:362px;top:1710.02px;width:84px;height:24.13px;line-height:24.13px;font-size:15px;text-align:right;padding-right:1.5px;">8.3%</div>
<div class="t" style="left:446px;top:1710.02px;width:84px;height:24.13px;line-height:24.13px;font-size:15px;text-align:right;padding-right:1.5px;">16.5%</div>
<div class="t" style="left:530px;top:1710.02px;width:83px;height:24.13px;line-height:24.13px;font-size:15px;text-align:right;padding-right:1.5px;">25.2%</div>
<div class="t" style="left:613px;top:1710.02px;width:84px;height:24.13px;line-height:24.13px;font-size:15px;">D</div>
<div class="t" style="left:27px;top:1734.15px;width:126px;height:24.13px;line-height:24.13px;font-size:14px;text-align:left;color:#fff;padding-left:1px;">6枠</div>
<div class="t" style="left:153px;top:1734.15px;width:209px;height:24.13px;line-height:24.13px;font-size:15px;text-align:left;padding-left:3px;">265-283-287-2102</div>
<div class="t" style="left:362px;top:1734.15px;width:84px;height:24.13px;line-height:24.13px;font-size:15px;text-align:right;padding-right:1.5px;">9.0%</div>
<div class="t" style="left:446px;top:1734.15px;width:84px;height:24.13px;line-height:24.13px;font-size:15px;text-align:right;padding-right:1.5px;">18.7%</div>
<div class="t" style="left:530px;top:1734.15px;width:83px;height:24.13px;line-height:24.13px;font-size:15px;text-align:right;padding-right:1.5px;">28.4%</div>
<div class="t" style="left:613px;top:1734.15px;width:84px;height:24.13px;line-height:24.13px;font-size:15px;">D</div>
<div class="t" style="left:27px;top:1758.28px;width:126px;height:24.13px;line-height:24.13px;font-size:14px;text-align:left;color:#fff;padding-left:1px;">7枠</div>
<div class="t" style="left:153px;top:1758.28px;width:209px;height:24.13px;line-height:24.13px;font-size:15px;text-align:left;padding-left:3px;">295-254-258-2128</div>
<div class="t" style="left:362px;top:1758.28px;width:84px;height:24.13px;line-height:24.13px;font-size:15px;text-align:right;padding-right:1.5px;">10.1%</div>
<div class="t" style="left:446px;top:1758.28px;width:84px;height:24.13px;line-height:24.13px;font-size:15px;text-align:right;padding-right:1.5px;">18.7%</div>
<div class="t" style="left:530px;top:1758.28px;width:83px;height:24.13px;line-height:24.13px;font-size:15px;text-align:right;padding-right:1.5px;">27.5%</div>
<div class="t" style="left:613px;top:1758.28px;width:84px;height:24.13px;line-height:24.13px;font-size:15px;">D</div>
<div class="t" style="left:27px;top:1782.41px;width:126px;height:24.13px;line-height:24.13px;font-size:14px;text-align:left;color:#fff;padding-left:1px;">8枠</div>
<div class="t" style="left:153px;top:1782.41px;width:209px;height:24.13px;line-height:24.13px;font-size:15px;text-align:left;padding-left:3px;">272-268-239-2146</div>
<div class="t" style="left:362px;top:1782.41px;width:84px;height:24.13px;line-height:24.13px;font-size:15px;text-align:right;padding-right:1.5px;">9.3%</div>
<div class="t" style="left:446px;top:1782.41px;width:84px;height:24.13px;line-height:24.13px;font-size:15px;text-align:right;padding-right:1.5px;">18.5%</div>
<div class="t" style="left:530px;top:1782.41px;width:83px;height:24.13px;line-height:24.13px;font-size:15px;text-align:right;padding-right:1.5px;">26.6%</div>
<div class="t" style="left:613px;top:1782.41px;width:84px;height:24.13px;line-height:24.13px;font-size:15px;">D</div>
<div style="left:27px;top:1824px;width:671px;height:1px;background:#707070"></div>
<div style="left:27px;top:1824px;width:1px;height:31px;background:#707070"></div>
<div style="left:697px;top:1824px;width:1px;height:31px;background:#707070"></div>
<div style="left:31.2px;top:1834.4px;width:9.6px;height:9.6px;border-radius:50%;background:#222"></div>
<div class="t" style="left:44px;top:1823.3px;width:653px;height:30px;line-height:30px;font-size:15px;text-align:left;padding-left:0px;">騎手別成績　過去5年　頭数指定なし</div>
<div style="left:27px;top:1854px;width:671px;height:31px;background:#1f3864"></div>
<div style="left:68px;top:1854px;width:1px;height:31px;background:#3b4a68"></div>
<div style="left:195px;top:1854px;width:1px;height:31px;background:#3b4a68"></div>
<div style="left:362px;top:1854px;width:1px;height:31px;background:#3b4a68"></div>
<div style="left:446px;top:1854px;width:1px;height:31px;background:#3b4a68"></div>
<div style="left:530px;top:1854px;width:1px;height:31px;background:#3b4a68"></div>
<div style="left:613px;top:1854px;width:1px;height:31px;background:#3b4a68"></div>
<div style="left:27px;top:1854px;width:1px;height:31px;background:#1a2848"></div>
<div style="left:697px;top:1854px;width:1px;height:31px;background:#1a2848"></div>
<div class="t" style="left:27px;top:1853.5px;width:41px;height:31px;line-height:31px;font-size:13px;color:#fff;font-weight:bold;">馬番</div>
<div class="t" style="left:68px;top:1853.5px;width:127px;height:31px;line-height:31px;font-size:13px;color:#fff;font-weight:bold;">騎手</div>
<div class="t" style="left:195px;top:1853.5px;width:167px;height:31px;line-height:31px;font-size:13px;color:#fff;font-weight:bold;">着別度数</div>
<div class="t" style="left:362px;top:1853.5px;width:84px;height:31px;line-height:31px;font-size:13px;color:#fff;font-weight:bold;">勝率</div>
<div class="t" style="left:446px;top:1853.5px;width:84px;height:31px;line-height:31px;font-size:13px;color:#fff;font-weight:bold;">連対率</div>
<div class="t" style="left:530px;top:1853.5px;width:83px;height:31px;line-height:31px;font-size:13px;color:#fff;font-weight:bold;">複勝率</div>
<div class="t" style="left:613px;top:1853.5px;width:84px;height:31px;line-height:31px;font-size:13px;color:#fff;font-weight:bold;">評価</div>
<div style="left:27px;top:1909.13px;width:670px;height:24.13px;background:#dfeafc"></div>
<div style="left:27px;top:1957.39px;width:670px;height:24.13px;background:#dfeafc"></div>
<div style="left:27px;top:2005.65px;width:670px;height:24.13px;background:#dfeafc"></div>
<div style="left:27px;top:2053.91px;width:670px;height:24.13px;background:#dfeafc"></div>
<div style="left:27px;top:2102.17px;width:670px;height:24.13px;background:#dfeafc"></div>
<div style="left:27px;top:2150.43px;width:670px;height:24.13px;background:#dfeafc"></div>
<div style="left:27px;top:1885px;width:41px;height:24.13px;background:#f0f0f0"></div>
<div style="left:27px;top:1909.13px;width:41px;height:24.13px;background:#000000"></div>
<div style="left:27px;top:1933.26px;width:41px;height:24.13px;background:#e8412f"></div>
<div style="left:27px;top:1957.39px;width:41px;height:24.13px;background:#3f87f0"></div>
<div style="left:27px;top:1981.52px;width:41px;height:24.13px;background:#f5c800"></div>
<div style="left:27px;top:2005.65px;width:41px;height:24.13px;background:#f5c800"></div>
<div style="left:27px;top:2029.78px;width:41px;height:24.13px;background:#22aa3c"></div>
<div style="left:27px;top:2053.91px;width:41px;height:24.13px;background:#22aa3c"></div>
<div style="left:27px;top:2078.04px;width:41px;height:24.13px;background:#e8961e"></div>
<div style="left:27px;top:2102.17px;width:41px;height:24.13px;background:#e8961e"></div>
<div style="left:27px;top:2126.3px;width:41px;height:24.13px;background:#e0509a"></div>
<div style="left:27px;top:2150.43px;width:41px;height:24.13px;background:#e0509a"></div>
<div style="left:362px;top:1981.52px;width:84px;height:24.13px;background:#fce4d6"></div>
<div style="left:27px;top:1885px;width:671px;height:1px;background:#7c7c7c"></div>
<div style="left:27px;top:1909.13px;width:671px;height:1px;background:#7c7c7c"></div>
<div style="left:27px;top:1933.26px;width:671px;height:1px;background:#7c7c7c"></div>
<div style="left:27px;top:1957.39px;width:671px;height:1px;background:#7c7c7c"></div>
<div style="left:27px;top:1981.52px;width:671px;height:1px;background:#7c7c7c"></div>
<div style="left:27px;top:2005.65px;width:671px;height:1px;background:#7c7c7c"></div>
<div style="left:27px;top:2029.78px;width:671px;height:1px;background:#7c7c7c"></div>
<div style="left:27px;top:2053.91px;width:671px;height:1px;background:#7c7c7c"></div>
<div style="left:27px;top:2078.04px;width:671px;height:1px;background:#7c7c7c"></div>
<div style="left:27px;top:2102.17px;width:671px;height:1px;background:#7c7c7c"></div>
<div style="left:27px;top:2126.3px;width:671px;height:1px;background:#7c7c7c"></div>
<div style="left:27px;top:2150.43px;width:671px;height:1px;background:#7c7c7c"></div>
<div style="left:27px;top:2174.56px;width:671px;height:1px;background:#7c7c7c"></div>
<div style="left:27px;top:1885px;width:1px;height:290.56px;background:#7c7c7c"></div>
<div style="left:68px;top:1885px;width:1px;height:290.56px;background:#7c7c7c"></div>
<div style="left:195px;top:1885px;width:1px;height:290.56px;background:#7c7c7c"></div>
<div style="left:362px;top:1885px;width:1px;height:290.56px;background:#7c7c7c"></div>
<div style="left:446px;top:1885px;width:1px;height:290.56px;background:#7c7c7c"></div>
<div style="left:530px;top:1885px;width:1px;height:290.56px;background:#7c7c7c"></div>
<div style="left:613px;top:1885px;width:1px;height:290.56px;background:#7c7c7c"></div>
<div style="left:697px;top:1885px;width:1px;height:290.56px;background:#7c7c7c"></div>
<div style="left:27px;top:1885px;width:1px;height:290.56px;background:#707070"></div>
<div style="left:697px;top:1885px;width:1px;height:290.56px;background:#707070"></div>
<div class="t" style="left:27px;top:1884.5px;width:41px;height:24.13px;line-height:24.13px;font-size:15px;color:#222;">1</div>
<div class="t" style="left:68px;top:1884.5px;width:127px;height:24.13px;line-height:24.13px;font-size:13.5px;text-align:left;padding-left:3px;">木間塚龍</div>
<div class="t" style="left:195px;top:1884.5px;width:167px;height:24.13px;line-height:24.13px;font-size:15px;text-align:left;padding-left:3px;">28-42-66-591</div>
<div class="t" style="left:362px;top:1884.5px;width:84px;height:24.13px;line-height:24.13px;font-size:15px;text-align:right;padding-right:1.5px;">3.9%</div>
<div class="t" style="left:446px;top:1884.5px;width:84px;height:24.13px;line-height:24.13px;font-size:15px;text-align:right;padding-right:1.5px;">9.6%</div>
<div class="t" style="left:530px;top:1884.5px;width:83px;height:24.13px;line-height:24.13px;font-size:15px;text-align:right;padding-right:1.5px;">18.7%</div>
<div class="t" style="left:613px;top:1884.5px;width:84px;height:24.13px;line-height:24.13px;font-size:15px;">D</div>
<div class="t" style="left:27px;top:1908.63px;width:41px;height:24.13px;line-height:24.13px;font-size:15px;color:#fff;">2</div>
<div class="t" style="left:68px;top:1908.63px;width:127px;height:24.13px;line-height:24.13px;font-size:13.5px;text-align:left;padding-left:3px;">吉原寛人</div>
<div class="t" style="left:195px;top:1908.63px;width:167px;height:24.13px;line-height:24.13px;font-size:15px;text-align:left;padding-left:3px;">1-6-4-24</div>
<div class="t" style="left:362px;top:1908.63px;width:84px;height:24.13px;line-height:24.13px;font-size:15px;text-align:right;padding-right:1.5px;">2.9%</div>
<div class="t" style="left:446px;top:1908.63px;width:84px;height:24.13px;line-height:24.13px;font-size:15px;text-align:right;padding-right:1.5px;">20.0%</div>
<div class="t" style="left:530px;top:1908.63px;width:83px;height:24.13px;line-height:24.13px;font-size:15px;text-align:right;padding-right:1.5px;">31.4%</div>
<div class="t" style="left:613px;top:1908.63px;width:84px;height:24.13px;line-height:24.13px;font-size:15px;">D</div>
<div class="t" style="left:27px;top:1932.76px;width:41px;height:24.13px;line-height:24.13px;font-size:15px;color:#fff;">3</div>
<div class="t" style="left:68px;top:1932.76px;width:127px;height:24.13px;line-height:24.13px;font-size:13.5px;text-align:left;padding-left:3px;">野畑凌</div>
<div class="t" style="left:195px;top:1932.76px;width:167px;height:24.13px;line-height:24.13px;font-size:15px;text-align:left;padding-left:3px;">23-18-30-178</div>
<div class="t" style="left:362px;top:1932.76px;width:84px;height:24.13px;line-height:24.13px;font-size:15px;text-align:right;padding-right:1.5px;">9.2%</div>
<div class="t" style="left:446px;top:1932.76px;width:84px;height:24.13px;line-height:24.13px;font-size:15px;text-align:right;padding-right:1.5px;">16.5%</div>
<div class="t" style="left:530px;top:1932.76px;width:83px;height:24.13px;line-height:24.13px;font-size:15px;text-align:right;padding-right:1.5px;">28.5%</div>
<div class="t" style="left:613px;top:1932.76px;width:84px;height:24.13px;line-height:24.13px;font-size:15px;">D</div>
<div class="t" style="left:27px;top:1956.89px;width:41px;height:24.13px;line-height:24.13px;font-size:15px;color:#fff;">4</div>
<div class="t" style="left:68px;top:1956.89px;width:127px;height:24.13px;line-height:24.13px;font-size:13.5px;text-align:left;padding-left:3px;">岡村健司</div>
<div class="t" style="left:195px;top:1956.89px;width:167px;height:24.13px;line-height:24.13px;font-size:15px;text-align:left;padding-left:3px;">66-61-90-489</div>
<div class="t" style="left:362px;top:1956.89px;width:84px;height:24.13px;line-height:24.13px;font-size:15px;text-align:right;padding-right:1.5px;">9.3%</div>
<div class="t" style="left:446px;top:1956.89px;width:84px;height:24.13px;line-height:24.13px;font-size:15px;text-align:right;padding-right:1.5px;">18.0%</div>
<div class="t" style="left:530px;top:1956.89px;width:83px;height:24.13px;line-height:24.13px;font-size:15px;text-align:right;padding-right:1.5px;">30.7%</div>
<div class="t" style="left:613px;top:1956.89px;width:84px;height:24.13px;line-height:24.13px;font-size:15px;">D</div>
<div class="t" style="left:27px;top:1981.02px;width:41px;height:24.13px;line-height:24.13px;font-size:15px;color:#222;">5</div>
<div class="t" style="left:68px;top:1981.02px;width:127px;height:24.13px;line-height:24.13px;font-size:13.5px;text-align:left;padding-left:3px;">山本大</div>
<div class="t" style="left:195px;top:1981.02px;width:167px;height:24.13px;line-height:24.13px;font-size:15px;text-align:left;padding-left:3px;">1-2-0-12</div>
<div class="t" style="left:362px;top:1981.02px;width:84px;height:24.13px;line-height:24.13px;font-size:15px;text-align:right;padding-right:1.5px;">6.7%</div>
<div class="t" style="left:446px;top:1981.02px;width:84px;height:24.13px;line-height:24.13px;font-size:15px;text-align:right;padding-right:1.5px;">20.0%</div>
<div class="t" style="left:530px;top:1981.02px;width:83px;height:24.13px;line-height:24.13px;font-size:15px;text-align:right;padding-right:1.5px;">20.0%</div>
<div class="t" style="left:613px;top:1981.02px;width:84px;height:24.13px;line-height:24.13px;font-size:15px;">D</div>
<div class="t" style="left:27px;top:2005.15px;width:41px;height:24.13px;line-height:24.13px;font-size:15px;color:#222;">6</div>
<div class="t" style="left:68px;top:2005.15px;width:127px;height:24.13px;line-height:24.13px;font-size:13.5px;text-align:left;padding-left:3px;">所蛍</div>
<div class="t" style="left:195px;top:2005.15px;width:167px;height:24.13px;line-height:24.13px;font-size:15px;text-align:left;padding-left:3px;">23-17-36-265</div>
<div class="t" style="left:362px;top:2005.15px;width:84px;height:24.13px;line-height:24.13px;font-size:15px;text-align:right;padding-right:1.5px;">6.7%</div>
<div class="t" style="left:446px;top:2005.15px;width:84px;height:24.13px;line-height:24.13px;font-size:15px;text-align:right;padding-right:1.5px;">11.7%</div>
<div class="t" style="left:530px;top:2005.15px;width:83px;height:24.13px;line-height:24.13px;font-size:15px;text-align:right;padding-right:1.5px;">22.3%</div>
<div class="t" style="left:613px;top:2005.15px;width:84px;height:24.13px;line-height:24.13px;font-size:15px;">D</div>
<div class="t" style="left:27px;top:2029.28px;width:41px;height:24.13px;line-height:24.13px;font-size:15px;color:#fff;">7</div>
<div class="t" style="left:68px;top:2029.28px;width:127px;height:24.13px;line-height:24.13px;font-size:13.5px;text-align:left;padding-left:3px;">笹川翼</div>
<div class="t" style="left:195px;top:2029.28px;width:167px;height:24.13px;line-height:24.13px;font-size:15px;text-align:left;padding-left:3px;">113-111-81-288</div>
<div class="t" style="left:362px;top:2029.28px;width:84px;height:24.13px;line-height:24.13px;font-size:15px;text-align:right;padding-right:1.5px;">19.1%</div>
<div class="t" style="left:446px;top:2029.28px;width:84px;height:24.13px;line-height:24.13px;font-size:15px;text-align:right;padding-right:1.5px;">37.8%</div>
<div class="t" style="left:530px;top:2029.28px;width:83px;height:24.13px;line-height:24.13px;font-size:15px;text-align:right;padding-right:1.5px;">51.4%</div>
<div class="t" style="left:613px;top:2029.28px;width:84px;height:24.13px;line-height:24.13px;font-size:15px;">C</div>
<div class="t" style="left:27px;top:2053.41px;width:41px;height:24.13px;line-height:24.13px;font-size:15px;color:#fff;">8</div>
<div class="t" style="left:68px;top:2053.41px;width:127px;height:24.13px;line-height:24.13px;font-size:13.5px;text-align:left;padding-left:3px;">矢野貴之</div>
<div class="t" style="left:195px;top:2053.41px;width:167px;height:24.13px;line-height:24.13px;font-size:15px;text-align:left;padding-left:3px;">106-92-100-344</div>
<div class="t" style="left:362px;top:2053.41px;width:84px;height:24.13px;line-height:24.13px;font-size:15px;text-align:right;padding-right:1.5px;">16.5%</div>
<div class="t" style="left:446px;top:2053.41px;width:84px;height:24.13px;line-height:24.13px;font-size:15px;text-align:right;padding-right:1.5px;">30.8%</div>
<div class="t" style="left:530px;top:2053.41px;width:83px;height:24.13px;line-height:24.13px;font-size:15px;text-align:right;padding-right:1.5px;">46.4%</div>
<div class="t" style="left:613px;top:2053.41px;width:84px;height:24.13px;line-height:24.13px;font-size:15px;">C</div>
<div class="t" style="left:27px;top:2077.54px;width:41px;height:24.13px;line-height:24.13px;font-size:15px;color:#fff;">9</div>
<div class="t" style="left:68px;top:2077.54px;width:127px;height:24.13px;line-height:24.13px;font-size:13.5px;text-align:left;padding-left:3px;">篠谷葵</div>
<div class="t" style="left:195px;top:2077.54px;width:167px;height:24.13px;line-height:24.13px;font-size:15px;text-align:left;padding-left:3px;">49-57-44-369</div>
<div class="t" style="left:362px;top:2077.54px;width:84px;height:24.13px;line-height:24.13px;font-size:15px;text-align:right;padding-right:1.5px;">9.4%</div>
<div class="t" style="left:446px;top:2077.54px;width:84px;height:24.13px;line-height:24.13px;font-size:15px;text-align:right;padding-right:1.5px;">20.4%</div>
<div class="t" style="left:530px;top:2077.54px;width:83px;height:24.13px;line-height:24.13px;font-size:15px;text-align:right;padding-right:1.5px;">28.9%</div>
<div class="t" style="left:613px;top:2077.54px;width:84px;height:24.13px;line-height:24.13px;font-size:15px;">D</div>
<div class="t" style="left:27px;top:2101.67px;width:41px;height:24.13px;line-height:24.13px;font-size:15px;color:#fff;">10</div>
<div class="t" style="left:68px;top:2101.67px;width:127px;height:24.13px;line-height:24.13px;font-size:13.5px;text-align:left;padding-left:3px;">張田昂</div>
<div class="t" style="left:195px;top:2101.67px;width:167px;height:24.13px;line-height:24.13px;font-size:15px;text-align:left;padding-left:3px;">109-84-69-347</div>
<div class="t" style="left:362px;top:2101.67px;width:84px;height:24.13px;line-height:24.13px;font-size:15px;text-align:right;padding-right:1.5px;">17.9%</div>
<div class="t" style="left:446px;top:2101.67px;width:84px;height:24.13px;line-height:24.13px;font-size:15px;text-align:right;padding-right:1.5px;">31.7%</div>
<div class="t" style="left:530px;top:2101.67px;width:83px;height:24.13px;line-height:24.13px;font-size:15px;text-align:right;padding-right:1.5px;">43.0%</div>
<div class="t" style="left:613px;top:2101.67px;width:84px;height:24.13px;line-height:24.13px;font-size:15px;">C</div>
<div class="t" style="left:27px;top:2125.8px;width:41px;height:24.13px;line-height:24.13px;font-size:15px;color:#fff;">11</div>
<div class="t" style="left:68px;top:2125.8px;width:127px;height:24.13px;line-height:24.13px;font-size:13.5px;text-align:left;padding-left:3px;">笠野雄大</div>
<div class="t" style="left:195px;top:2125.8px;width:167px;height:24.13px;line-height:24.13px;font-size:15px;text-align:left;padding-left:3px;">48-40-65-418</div>
<div class="t" style="left:362px;top:2125.8px;width:84px;height:24.13px;line-height:24.13px;font-size:15px;text-align:right;padding-right:1.5px;">8.4%</div>
<div class="t" style="left:446px;top:2125.8px;width:84px;height:24.13px;line-height:24.13px;font-size:15px;text-align:right;padding-right:1.5px;">15.4%</div>
<div class="t" style="left:530px;top:2125.8px;width:83px;height:24.13px;line-height:24.13px;font-size:15px;text-align:right;padding-right:1.5px;">26.8%</div>
<div class="t" style="left:613px;top:2125.8px;width:84px;height:24.13px;line-height:24.13px;font-size:15px;">D</div>
<div class="t" style="left:27px;top:2149.93px;width:41px;height:24.13px;line-height:24.13px;font-size:15px;color:#fff;">12</div>
<div class="t" style="left:68px;top:2149.93px;width:127px;height:24.13px;line-height:24.13px;font-size:13.5px;text-align:left;padding-left:3px;">小杉亮</div>
<div class="t" style="left:195px;top:2149.93px;width:167px;height:24.13px;line-height:24.13px;font-size:15px;text-align:left;padding-left:3px;">36-49-55-365</div>
<div class="t" style="left:362px;top:2149.93px;width:84px;height:24.13px;line-height:24.13px;font-size:15px;text-align:right;padding-right:1.5px;">7.1%</div>
<div class="t" style="left:446px;top:2149.93px;width:84px;height:24.13px;line-height:24.13px;font-size:15px;text-align:right;padding-right:1.5px;">16.8%</div>
<div class="t" style="left:530px;top:2149.93px;width:83px;height:24.13px;line-height:24.13px;font-size:15px;text-align:right;padding-right:1.5px;">27.7%</div>
<div class="t" style="left:613px;top:2149.93px;width:84px;height:24.13px;line-height:24.13px;font-size:15px;">D</div>
<div style="left:27px;top:2192px;width:671px;height:1px;background:#707070"></div>
<div style="left:27px;top:2192px;width:1px;height:31px;background:#707070"></div>
<div style="left:697px;top:2192px;width:1px;height:31px;background:#707070"></div>
<div style="left:31.2px;top:2202.4px;width:9.6px;height:9.6px;border-radius:50%;background:#222"></div>
<div class="t" style="left:44px;top:2191.3px;width:653px;height:30px;line-height:30px;font-size:15px;text-align:left;padding-left:0px;">厩舎別成績　過去5年　頭数指定なし</div>
<div style="left:27px;top:2222px;width:671px;height:31px;background:#1f3864"></div>
<div style="left:68px;top:2222px;width:1px;height:31px;background:#3b4a68"></div>
<div style="left:195px;top:2222px;width:1px;height:31px;background:#3b4a68"></div>
<div style="left:362px;top:2222px;width:1px;height:31px;background:#3b4a68"></div>
<div style="left:446px;top:2222px;width:1px;height:31px;background:#3b4a68"></div>
<div style="left:530px;top:2222px;width:1px;height:31px;background:#3b4a68"></div>
<div style="left:613px;top:2222px;width:1px;height:31px;background:#3b4a68"></div>
<div style="left:27px;top:2222px;width:1px;height:31px;background:#1a2848"></div>
<div style="left:697px;top:2222px;width:1px;height:31px;background:#1a2848"></div>
<div class="t" style="left:27px;top:2221.5px;width:41px;height:31px;line-height:31px;font-size:13px;color:#fff;font-weight:bold;">馬番</div>
<div class="t" style="left:68px;top:2221.5px;width:127px;height:31px;line-height:31px;font-size:13px;color:#fff;font-weight:bold;">厩舎</div>
<div class="t" style="left:195px;top:2221.5px;width:167px;height:31px;line-height:31px;font-size:13px;color:#fff;font-weight:bold;">着別度数</div>
<div class="t" style="left:362px;top:2221.5px;width:84px;height:31px;line-height:31px;font-size:13px;color:#fff;font-weight:bold;">勝率</div>
<div class="t" style="left:446px;top:2221.5px;width:84px;height:31px;line-height:31px;font-size:13px;color:#fff;font-weight:bold;">連対率</div>
<div class="t" style="left:530px;top:2221.5px;width:83px;height:31px;line-height:31px;font-size:13px;color:#fff;font-weight:bold;">複勝率</div>
<div class="t" style="left:613px;top:2221.5px;width:84px;height:31px;line-height:31px;font-size:13px;color:#fff;font-weight:bold;">評価</div>
<div style="left:27px;top:2277.13px;width:670px;height:24.13px;background:#dfeafc"></div>
<div style="left:27px;top:2325.39px;width:670px;height:24.13px;background:#dfeafc"></div>
<div style="left:27px;top:2373.65px;width:670px;height:24.13px;background:#dfeafc"></div>
<div style="left:27px;top:2421.91px;width:670px;height:24.13px;background:#dfeafc"></div>
<div style="left:27px;top:2470.17px;width:670px;height:24.13px;background:#dfeafc"></div>
<div style="left:27px;top:2518.43px;width:670px;height:24.13px;background:#dfeafc"></div>
<div style="left:27px;top:2253px;width:41px;height:24.13px;background:#f0f0f0"></div>
<div style="left:27px;top:2277.13px;width:41px;height:24.13px;background:#000000"></div>
<div style="left:27px;top:2301.26px;width:41px;height:24.13px;background:#e8412f"></div>
<div style="left:27px;top:2325.39px;width:41px;height:24.13px;background:#3f87f0"></div>
<div style="left:27px;top:2349.52px;width:41px;height:24.13px;background:#f5c800"></div>
<div style="left:27px;top:2373.65px;width:41px;height:24.13px;background:#f5c800"></div>
<div style="left:27px;top:2397.78px;width:41px;height:24.13px;background:#22aa3c"></div>
<div style="left:27px;top:2421.91px;width:41px;height:24.13px;background:#22aa3c"></div>
<div style="left:27px;top:2446.04px;width:41px;height:24.13px;background:#e8961e"></div>
<div style="left:27px;top:2470.17px;width:41px;height:24.13px;background:#e8961e"></div>
<div style="left:27px;top:2494.3px;width:41px;height:24.13px;background:#e0509a"></div>
<div style="left:27px;top:2518.43px;width:41px;height:24.13px;background:#e0509a"></div>
<div style="left:27px;top:2253px;width:671px;height:1px;background:#7c7c7c"></div>
<div style="left:27px;top:2277.13px;width:671px;height:1px;background:#7c7c7c"></div>
<div style="left:27px;top:2301.26px;width:671px;height:1px;background:#7c7c7c"></div>
<div style="left:27px;top:2325.39px;width:671px;height:1px;background:#7c7c7c"></div>
<div style="left:27px;top:2349.52px;width:671px;height:1px;background:#7c7c7c"></div>
<div style="left:27px;top:2373.65px;width:671px;height:1px;background:#7c7c7c"></div>
<div style="left:27px;top:2397.78px;width:671px;height:1px;background:#7c7c7c"></div>
<div style="left:27px;top:2421.91px;width:671px;height:1px;background:#7c7c7c"></div>
<div style="left:27px;top:2446.04px;width:671px;height:1px;background:#7c7c7c"></div>
<div style="left:27px;top:2470.17px;width:671px;height:1px;background:#7c7c7c"></div>
<div style="left:27px;top:2494.3px;width:671px;height:1px;background:#7c7c7c"></div>
<div style="left:27px;top:2518.43px;width:671px;height:1px;background:#7c7c7c"></div>
<div style="left:27px;top:2542.56px;width:671px;height:1px;background:#7c7c7c"></div>
<div style="left:27px;top:2253px;width:1px;height:290.56px;background:#7c7c7c"></div>
<div style="left:68px;top:2253px;width:1px;height:290.56px;background:#7c7c7c"></div>
<div style="left:195px;top:2253px;width:1px;height:290.56px;background:#7c7c7c"></div>
<div style="left:362px;top:2253px;width:1px;height:290.56px;background:#7c7c7c"></div>
<div style="left:446px;top:2253px;width:1px;height:290.56px;background:#7c7c7c"></div>
<div style="left:530px;top:2253px;width:1px;height:290.56px;background:#7c7c7c"></div>
<div style="left:613px;top:2253px;width:1px;height:290.56px;background:#7c7c7c"></div>
<div style="left:697px;top:2253px;width:1px;height:290.56px;background:#7c7c7c"></div>
<div style="left:27px;top:2253px;width:1px;height:290.56px;background:#707070"></div>
<div style="left:697px;top:2253px;width:1px;height:290.56px;background:#707070"></div>
<div class="t" style="left:27px;top:2252.5px;width:41px;height:24.13px;line-height:24.13px;font-size:15px;color:#222;">1</div>
<div class="t" style="left:68px;top:2252.5px;width:127px;height:24.13px;line-height:24.13px;font-size:13.5px;text-align:left;padding-left:3px;">齊藤敏</div>
<div class="t" style="left:195px;top:2252.5px;width:167px;height:24.13px;line-height:24.13px;font-size:15px;text-align:left;padding-left:3px;">72-104-116-722</div>
<div class="t" style="left:362px;top:2252.5px;width:84px;height:24.13px;line-height:24.13px;font-size:15px;text-align:right;padding-right:1.5px;">7.1%</div>
<div class="t" style="left:446px;top:2252.5px;width:84px;height:24.13px;line-height:24.13px;font-size:15px;text-align:right;padding-right:1.5px;">17.4%</div>
<div class="t" style="left:530px;top:2252.5px;width:83px;height:24.13px;line-height:24.13px;font-size:15px;text-align:right;padding-right:1.5px;">28.8%</div>
<div class="t" style="left:613px;top:2252.5px;width:84px;height:24.13px;line-height:24.13px;font-size:15px;">D</div>
<div class="t" style="left:27px;top:2276.63px;width:41px;height:24.13px;line-height:24.13px;font-size:15px;color:#fff;">2</div>
<div class="t" style="left:68px;top:2276.63px;width:127px;height:24.13px;line-height:24.13px;font-size:13.5px;text-align:left;padding-left:3px;">矢野義幸</div>
<div class="t" style="left:195px;top:2276.63px;width:167px;height:24.13px;line-height:24.13px;font-size:15px;text-align:left;padding-left:3px;">59-76-80-473</div>
<div class="t" style="left:362px;top:2276.63px;width:84px;height:24.13px;line-height:24.13px;font-size:15px;text-align:right;padding-right:1.5px;">8.6%</div>
<div class="t" style="left:446px;top:2276.63px;width:84px;height:24.13px;line-height:24.13px;font-size:15px;text-align:right;padding-right:1.5px;">19.6%</div>
<div class="t" style="left:530px;top:2276.63px;width:83px;height:24.13px;line-height:24.13px;font-size:15px;text-align:right;padding-right:1.5px;">31.3%</div>
<div class="t" style="left:613px;top:2276.63px;width:84px;height:24.13px;line-height:24.13px;font-size:15px;">D</div>
<div class="t" style="left:27px;top:2300.76px;width:41px;height:24.13px;line-height:24.13px;font-size:15px;color:#fff;">3</div>
<div class="t" style="left:68px;top:2300.76px;width:127px;height:24.13px;line-height:24.13px;font-size:13.5px;text-align:left;padding-left:3px;">齊藤敏</div>
<div class="t" style="left:195px;top:2300.76px;width:167px;height:24.13px;line-height:24.13px;font-size:15px;text-align:left;padding-left:3px;">72-104-116-722</div>
<div class="t" style="left:362px;top:2300.76px;width:84px;height:24.13px;line-height:24.13px;font-size:15px;text-align:right;padding-right:1.5px;">7.1%</div>
<div class="t" style="left:446px;top:2300.76px;width:84px;height:24.13px;line-height:24.13px;font-size:15px;text-align:right;padding-right:1.5px;">17.4%</div>
<div class="t" style="left:530px;top:2300.76px;width:83px;height:24.13px;line-height:24.13px;font-size:15px;text-align:right;padding-right:1.5px;">28.8%</div>
<div class="t" style="left:613px;top:2300.76px;width:84px;height:24.13px;line-height:24.13px;font-size:15px;">D</div>
<div class="t" style="left:27px;top:2324.89px;width:41px;height:24.13px;line-height:24.13px;font-size:15px;color:#fff;">4</div>
<div class="t" style="left:68px;top:2324.89px;width:127px;height:24.13px;line-height:24.13px;font-size:13.5px;text-align:left;padding-left:3px;">山本学</div>
<div class="t" style="left:195px;top:2324.89px;width:167px;height:24.13px;line-height:24.13px;font-size:15px;text-align:left;padding-left:3px;">30-34-34-290</div>
<div class="t" style="left:362px;top:2324.89px;width:84px;height:24.13px;line-height:24.13px;font-size:15px;text-align:right;padding-right:1.5px;">7.7%</div>
<div class="t" style="left:446px;top:2324.89px;width:84px;height:24.13px;line-height:24.13px;font-size:15px;text-align:right;padding-right:1.5px;">16.5%</div>
<div class="t" style="left:530px;top:2324.89px;width:83px;height:24.13px;line-height:24.13px;font-size:15px;text-align:right;padding-right:1.5px;">25.3%</div>
<div class="t" style="left:613px;top:2324.89px;width:84px;height:24.13px;line-height:24.13px;font-size:15px;">D</div>
<div class="t" style="left:27px;top:2349.02px;width:41px;height:24.13px;line-height:24.13px;font-size:15px;color:#222;">5</div>
<div class="t" style="left:68px;top:2349.02px;width:127px;height:24.13px;line-height:24.13px;font-size:13.5px;text-align:left;padding-left:3px;">伊藤滋規</div>
<div class="t" style="left:195px;top:2349.02px;width:167px;height:24.13px;line-height:24.13px;font-size:15px;text-align:left;padding-left:3px;">21-42-57-472</div>
<div class="t" style="left:362px;top:2349.02px;width:84px;height:24.13px;line-height:24.13px;font-size:15px;text-align:right;padding-right:1.5px;">3.5%</div>
<div class="t" style="left:446px;top:2349.02px;width:84px;height:24.13px;line-height:24.13px;font-size:15px;text-align:right;padding-right:1.5px;">10.6%</div>
<div class="t" style="left:530px;top:2349.02px;width:83px;height:24.13px;line-height:24.13px;font-size:15px;text-align:right;padding-right:1.5px;">20.3%</div>
<div class="t" style="left:613px;top:2349.02px;width:84px;height:24.13px;line-height:24.13px;font-size:15px;">D</div>
<div class="t" style="left:27px;top:2373.15px;width:41px;height:24.13px;line-height:24.13px;font-size:15px;color:#222;">6</div>
<div class="t" style="left:68px;top:2373.15px;width:127px;height:24.13px;line-height:24.13px;font-size:13.5px;text-align:left;padding-left:3px;">佐藤裕太</div>
<div class="t" style="left:195px;top:2373.15px;width:167px;height:24.13px;line-height:24.13px;font-size:15px;text-align:left;padding-left:3px;">81-72-47-297</div>
<div class="t" style="left:362px;top:2373.15px;width:84px;height:24.13px;line-height:24.13px;font-size:15px;text-align:right;padding-right:1.5px;">16.3%</div>
<div class="t" style="left:446px;top:2373.15px;width:84px;height:24.13px;line-height:24.13px;font-size:15px;text-align:right;padding-right:1.5px;">30.8%</div>
<div class="t" style="left:530px;top:2373.15px;width:83px;height:24.13px;line-height:24.13px;font-size:15px;text-align:right;padding-right:1.5px;">40.2%</div>
<div class="t" style="left:613px;top:2373.15px;width:84px;height:24.13px;line-height:24.13px;font-size:15px;">C</div>
<div class="t" style="left:27px;top:2397.28px;width:41px;height:24.13px;line-height:24.13px;font-size:15px;color:#fff;">7</div>
<div class="t" style="left:68px;top:2397.28px;width:127px;height:24.13px;line-height:24.13px;font-size:13.5px;text-align:left;padding-left:3px;">田島寿一</div>
<div class="t" style="left:195px;top:2397.28px;width:167px;height:24.13px;line-height:24.13px;font-size:15px;text-align:left;padding-left:3px;">1-2-1-31</div>
<div class="t" style="left:362px;top:2397.28px;width:84px;height:24.13px;line-height:24.13px;font-size:15px;text-align:right;padding-right:1.5px;">2.9%</div>
<div class="t" style="left:446px;top:2397.28px;width:84px;height:24.13px;line-height:24.13px;font-size:15px;text-align:right;padding-right:1.5px;">8.6%</div>
<div class="t" style="left:530px;top:2397.28px;width:83px;height:24.13px;line-height:24.13px;font-size:15px;text-align:right;padding-right:1.5px;">11.4%</div>
<div class="t" style="left:613px;top:2397.28px;width:84px;height:24.13px;line-height:24.13px;font-size:15px;">D</div>
<div class="t" style="left:27px;top:2421.41px;width:41px;height:24.13px;line-height:24.13px;font-size:15px;color:#fff;">8</div>
<div class="t" style="left:68px;top:2421.41px;width:127px;height:24.13px;line-height:24.13px;font-size:13.5px;text-align:left;padding-left:3px;">山田信大</div>
<div class="t" style="left:195px;top:2421.41px;width:167px;height:24.13px;line-height:24.13px;font-size:15px;text-align:left;padding-left:3px;">119-82-56-331</div>
<div class="t" style="left:362px;top:2421.41px;width:84px;height:24.13px;line-height:24.13px;font-size:15px;text-align:right;padding-right:1.5px;">20.2%</div>
<div class="t" style="left:446px;top:2421.41px;width:84px;height:24.13px;line-height:24.13px;font-size:15px;text-align:right;padding-right:1.5px;">34.2%</div>
<div class="t" style="left:530px;top:2421.41px;width:83px;height:24.13px;line-height:24.13px;font-size:15px;text-align:right;padding-right:1.5px;">43.7%</div>
<div class="t" style="left:613px;top:2421.41px;width:84px;height:24.13px;line-height:24.13px;font-size:15px;">C</div>
<div class="t" style="left:27px;top:2445.54px;width:41px;height:24.13px;line-height:24.13px;font-size:15px;color:#fff;">9</div>
<div class="t" style="left:68px;top:2445.54px;width:127px;height:24.13px;line-height:24.13px;font-size:13.5px;text-align:left;padding-left:3px;">稲益貴弘</div>
<div class="t" style="left:195px;top:2445.54px;width:167px;height:24.13px;line-height:24.13px;font-size:15px;text-align:left;padding-left:3px;">78-51-50-294</div>
<div class="t" style="left:362px;top:2445.54px;width:84px;height:24.13px;line-height:24.13px;font-size:15px;text-align:right;padding-right:1.5px;">16.5%</div>
<div class="t" style="left:446px;top:2445.54px;width:84px;height:24.13px;line-height:24.13px;font-size:15px;text-align:right;padding-right:1.5px;">27.3%</div>
<div class="t" style="left:530px;top:2445.54px;width:83px;height:24.13px;line-height:24.13px;font-size:15px;text-align:right;padding-right:1.5px;">37.8%</div>
<div class="t" style="left:613px;top:2445.54px;width:84px;height:24.13px;line-height:24.13px;font-size:15px;">D</div>
<div class="t" style="left:27px;top:2469.67px;width:41px;height:24.13px;line-height:24.13px;font-size:15px;color:#fff;">10</div>
<div class="t" style="left:68px;top:2469.67px;width:127px;height:24.13px;line-height:24.13px;font-size:13.5px;text-align:left;padding-left:3px;">山中尊徳</div>
<div class="t" style="left:195px;top:2469.67px;width:167px;height:24.13px;line-height:24.13px;font-size:15px;text-align:left;padding-left:3px;">57-50-56-389</div>
<div class="t" style="left:362px;top:2469.67px;width:84px;height:24.13px;line-height:24.13px;font-size:15px;text-align:right;padding-right:1.5px;">10.3%</div>
<div class="t" style="left:446px;top:2469.67px;width:84px;height:24.13px;line-height:24.13px;font-size:15px;text-align:right;padding-right:1.5px;">19.4%</div>
<div class="t" style="left:530px;top:2469.67px;width:83px;height:24.13px;line-height:24.13px;font-size:15px;text-align:right;padding-right:1.5px;">29.5%</div>
<div class="t" style="left:613px;top:2469.67px;width:84px;height:24.13px;line-height:24.13px;font-size:15px;">D</div>
<div class="t" style="left:27px;top:2493.8px;width:41px;height:24.13px;line-height:24.13px;font-size:15px;color:#fff;">11</div>
<div class="t" style="left:68px;top:2493.8px;width:127px;height:24.13px;line-height:24.13px;font-size:13.5px;text-align:left;padding-left:3px;">佐藤裕太</div>
<div class="t" style="left:195px;top:2493.8px;width:167px;height:24.13px;line-height:24.13px;font-size:15px;text-align:left;padding-left:3px;">81-72-47-297</div>
<div class="t" style="left:362px;top:2493.8px;width:84px;height:24.13px;line-height:24.13px;font-size:15px;text-align:right;padding-right:1.5px;">16.3%</div>
<div class="t" style="left:446px;top:2493.8px;width:84px;height:24.13px;line-height:24.13px;font-size:15px;text-align:right;padding-right:1.5px;">30.8%</div>
<div class="t" style="left:530px;top:2493.8px;width:83px;height:24.13px;line-height:24.13px;font-size:15px;text-align:right;padding-right:1.5px;">40.2%</div>
<div class="t" style="left:613px;top:2493.8px;width:84px;height:24.13px;line-height:24.13px;font-size:15px;">C</div>
<div class="t" style="left:27px;top:2517.93px;width:41px;height:24.13px;line-height:24.13px;font-size:15px;color:#fff;">12</div>
<div class="t" style="left:68px;top:2517.93px;width:127px;height:24.13px;line-height:24.13px;font-size:13.5px;text-align:left;padding-left:3px;">伊藤滋規</div>
<div class="t" style="left:195px;top:2517.93px;width:167px;height:24.13px;line-height:24.13px;font-size:15px;text-align:left;padding-left:3px;">21-42-57-472</div>
<div class="t" style="left:362px;top:2517.93px;width:84px;height:24.13px;line-height:24.13px;font-size:15px;text-align:right;padding-right:1.5px;">3.5%</div>
<div class="t" style="left:446px;top:2517.93px;width:84px;height:24.13px;line-height:24.13px;font-size:15px;text-align:right;padding-right:1.5px;">10.6%</div>
<div class="t" style="left:530px;top:2517.93px;width:83px;height:24.13px;line-height:24.13px;font-size:15px;text-align:right;padding-right:1.5px;">20.3%</div>
<div class="t" style="left:613px;top:2517.93px;width:84px;height:24.13px;line-height:24.13px;font-size:15px;">D</div>
</body></html>
